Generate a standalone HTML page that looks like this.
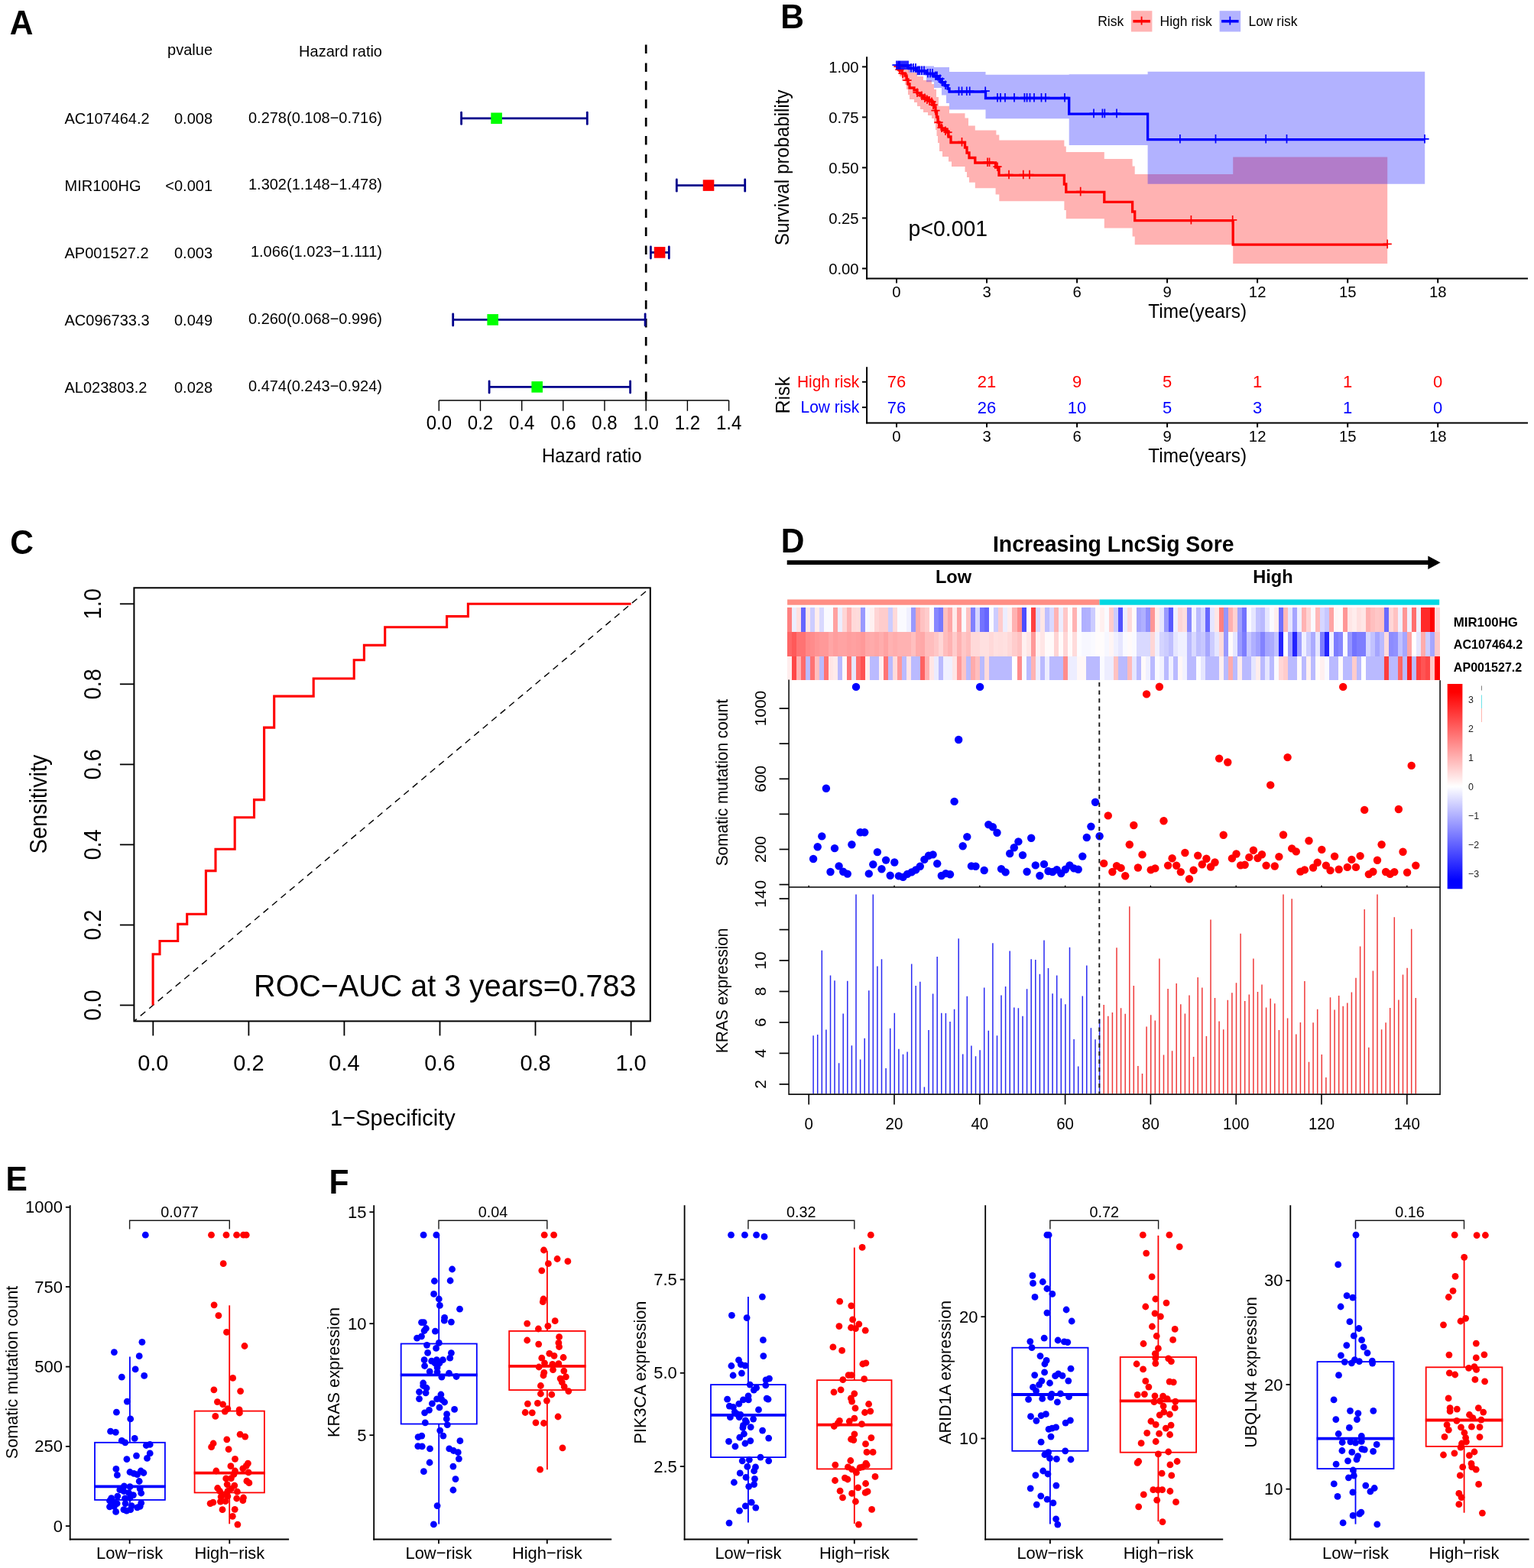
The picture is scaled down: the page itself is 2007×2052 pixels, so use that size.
<!DOCTYPE html>
<html lang="en">
<head>
<meta charset="utf-8">
<title>Figure: LncSig risk model</title>
<style>
html,body{margin:0;padding:0;background:#fff;}
body{width:2007px;height:2052px;overflow:hidden;}
svg{display:block;}
svg text{font-family:"Liberation Sans",sans-serif;}
</style>
</head>
<body>
<svg width="2007" height="2052" viewBox="0 0 2007 2052">
<rect width="2007" height="2052" fill="#fff"/>
<g id="panelA">
<text transform="translate(12.8 44.5) scale(1 1.04)" font-size="42.5" font-weight="bold">A</text>
<text transform="translate(278 72.4) scale(1 1.04)" font-size="20" text-anchor="end">pvalue</text>
<text transform="translate(500 74.3) scale(1 1.04)" font-size="20" text-anchor="end">Hazard ratio</text>
<line x1="845.2" y1="58.5" x2="845.2" y2="524" stroke="#000" stroke-width="2.7" stroke-dasharray="11.5 12.4"/>
<text transform="translate(84.5 162.1) scale(1 1.04)" font-size="20">AC107464.2</text>
<text transform="translate(278 162.1) scale(1 1.04)" font-size="20" text-anchor="end">0.008</text>
<text transform="translate(500 160.6) scale(1 1.04)" font-size="20" text-anchor="end">0.278(0.108−0.716)</text>
<line x1="603.6" y1="154.8" x2="768.3" y2="154.8" stroke="#00008B" stroke-width="2.8"/>
<line x1="603.6" y1="147.2" x2="603.6" y2="162.4" stroke="#00008B" stroke-width="2.8" stroke-linecap="round"/>
<line x1="768.3" y1="147.2" x2="768.3" y2="162.4" stroke="#00008B" stroke-width="2.8" stroke-linecap="round"/>
<rect x="642.3" y="147.5" width="14.6" height="14.6" fill="#00FF00"/>
<text transform="translate(84.5 249.9) scale(1 1.04)" font-size="20">MIR100HG</text>
<text transform="translate(278 249.9) scale(1 1.04)" font-size="20" text-anchor="end">&lt;0.001</text>
<text transform="translate(500 248.4) scale(1 1.04)" font-size="20" text-anchor="end">1.302(1.148−1.478)</text>
<line x1="885.3" y1="242.6" x2="974.7" y2="242.6" stroke="#00008B" stroke-width="2.8"/>
<line x1="885.3" y1="235" x2="885.3" y2="250.2" stroke="#00008B" stroke-width="2.8" stroke-linecap="round"/>
<line x1="974.7" y1="235" x2="974.7" y2="250.2" stroke="#00008B" stroke-width="2.8" stroke-linecap="round"/>
<rect x="919.7" y="235.3" width="14.6" height="14.6" fill="#FF0000"/>
<text transform="translate(84.5 337.7) scale(1 1.04)" font-size="20">AP001527.2</text>
<text transform="translate(278 337.7) scale(1 1.04)" font-size="20" text-anchor="end">0.003</text>
<text transform="translate(500 336.2) scale(1 1.04)" font-size="20" text-anchor="end">1.066(1.023−1.111)</text>
<line x1="851.4" y1="330.4" x2="875.3" y2="330.4" stroke="#00008B" stroke-width="2.8"/>
<line x1="851.4" y1="322.8" x2="851.4" y2="338" stroke="#00008B" stroke-width="2.8" stroke-linecap="round"/>
<line x1="875.3" y1="322.8" x2="875.3" y2="338" stroke="#00008B" stroke-width="2.8" stroke-linecap="round"/>
<rect x="855.8" y="323.1" width="14.6" height="14.6" fill="#FF0000"/>
<text transform="translate(84.5 425.7) scale(1 1.04)" font-size="20">AC096733.3</text>
<text transform="translate(278 425.7) scale(1 1.04)" font-size="20" text-anchor="end">0.049</text>
<text transform="translate(500 424.2) scale(1 1.04)" font-size="20" text-anchor="end">0.260(0.068−0.996)</text>
<line x1="592.7" y1="418.4" x2="844.1" y2="418.4" stroke="#00008B" stroke-width="2.8"/>
<line x1="592.7" y1="410.8" x2="592.7" y2="426" stroke="#00008B" stroke-width="2.8" stroke-linecap="round"/>
<line x1="844.1" y1="410.8" x2="844.1" y2="426" stroke="#00008B" stroke-width="2.8" stroke-linecap="round"/>
<rect x="637.4" y="411.1" width="14.6" height="14.6" fill="#00FF00"/>
<text transform="translate(84.5 513.7) scale(1 1.04)" font-size="20">AL023803.2</text>
<text transform="translate(278 513.7) scale(1 1.04)" font-size="20" text-anchor="end">0.028</text>
<text transform="translate(500 512.2) scale(1 1.04)" font-size="20" text-anchor="end">0.474(0.243−0.924)</text>
<line x1="640.1" y1="506.4" x2="824.6" y2="506.4" stroke="#00008B" stroke-width="2.8"/>
<line x1="640.1" y1="498.8" x2="640.1" y2="514" stroke="#00008B" stroke-width="2.8" stroke-linecap="round"/>
<line x1="824.6" y1="498.8" x2="824.6" y2="514" stroke="#00008B" stroke-width="2.8" stroke-linecap="round"/>
<rect x="695.4" y="499.1" width="14.6" height="14.6" fill="#00FF00"/>
<line x1="574.3" y1="524" x2="953.6" y2="524" stroke="#000" stroke-width="1.4"/>
<line x1="574.3" y1="524" x2="574.3" y2="537.8" stroke="#000" stroke-width="1.4"/>
<text transform="translate(574.3 561.6) scale(1 1.04)" font-size="24" text-anchor="middle">0.0</text>
<line x1="628.5" y1="524" x2="628.5" y2="537.8" stroke="#000" stroke-width="1.4"/>
<text transform="translate(628.48 561.6) scale(1 1.04)" font-size="24" text-anchor="middle">0.2</text>
<line x1="682.7" y1="524" x2="682.7" y2="537.8" stroke="#000" stroke-width="1.4"/>
<text transform="translate(682.66 561.6) scale(1 1.04)" font-size="24" text-anchor="middle">0.4</text>
<line x1="736.8" y1="524" x2="736.8" y2="537.8" stroke="#000" stroke-width="1.4"/>
<text transform="translate(736.84 561.6) scale(1 1.04)" font-size="24" text-anchor="middle">0.6</text>
<line x1="791" y1="524" x2="791" y2="537.8" stroke="#000" stroke-width="1.4"/>
<text transform="translate(791.02 561.6) scale(1 1.04)" font-size="24" text-anchor="middle">0.8</text>
<line x1="845.2" y1="524" x2="845.2" y2="537.8" stroke="#000" stroke-width="1.4"/>
<text transform="translate(845.2 561.6) scale(1 1.04)" font-size="24" text-anchor="middle">1.0</text>
<line x1="899.4" y1="524" x2="899.4" y2="537.8" stroke="#000" stroke-width="1.4"/>
<text transform="translate(899.38 561.6) scale(1 1.04)" font-size="24" text-anchor="middle">1.2</text>
<line x1="953.6" y1="524" x2="953.6" y2="537.8" stroke="#000" stroke-width="1.4"/>
<text transform="translate(953.56 561.6) scale(1 1.04)" font-size="24" text-anchor="middle">1.4</text>
<text transform="translate(774.2 604.5) scale(1 1.04)" font-size="24" text-anchor="middle">Hazard ratio</text>
</g>
<g id="panelB">
<text transform="translate(1021.3 37) scale(1 1.04)" font-size="42.5" font-weight="bold">B</text>
<text transform="translate(1436.2 34.2) scale(1 1.04)" font-size="17.5">Risk</text>
<rect x="1479.9" y="14.2" width="27.5" height="27.3" fill="#FFB3B3"/>
<line x1="1482.4" y1="27.8" x2="1504.9" y2="27.8" stroke="#FF0000" stroke-width="3.6"/>
<line x1="1493.6" y1="21.6" x2="1493.6" y2="32.6" stroke="#FF0000" stroke-width="1.8"/>
<text transform="translate(1517.6 34.2) scale(1 1.04)" font-size="17.5">High risk</text>
<rect x="1595.6" y="14.2" width="27.5" height="27.3" fill="#B3B3FF"/>
<line x1="1598.1" y1="27.8" x2="1620.6" y2="27.8" stroke="#0000FF" stroke-width="3.6"/>
<line x1="1609.3" y1="21.6" x2="1609.3" y2="32.6" stroke="#0000FF" stroke-width="1.8"/>
<text transform="translate(1633.4 34.2) scale(1 1.04)" font-size="17.5">Low risk</text>
<path d="M1173 86 H1177 V88 H1184 V90 H1190 V95 H1200 V100 H1208 V105 H1219 V110 H1222 V117 H1225 V127 H1228 V138.8 H1242 V148.2 H1262.5 V154.5 H1267 V164.5 H1275.8 V170.5 H1303.4 V176.5 H1307.3 V183.6 H1392.4 V191.5 H1394.8 V199 H1444.8 V207.9 H1481.6 V217.5 H1484.7 V228 H1613.2 V205.4 H1815.2 V345.1 H1613.2 V320.2 H1484.7 V309.6 H1481.6 V298.6 H1444.8 V286.2 H1394.8 V275 H1392.4 V263.2 H1307.3 V254.5 H1302.6 V246.3 H1275.8 V238.8 H1268 V232 H1265 V225 H1262.5 V218 H1245 V211.5 H1241 V205 H1233 V198 H1229 V187 H1227 V178 H1225.5 V170 H1224 V162 H1222 V155 H1219 V151 H1214 V147 H1208 V143 H1204 V139 H1200 V134 H1196 V130 H1190 V124 H1188 V117 H1186 V111 H1184 V106 H1180 V100 H1177 V94 H1174.5 V86 H1173 Z" fill="#FF0000" fill-opacity="0.3"/>
<path d="M1173 86 H1199 V86.5 H1222 V88 H1242 V93.9 H1289.5 V97.8 H1398.7 V97.3 H1501.6 V93.8 H1864.2 V240.7 H1501.6 V190 H1398.7 V155.3 H1289.5 V143.5 H1242 V135 H1238 V124.6 H1232 V115 H1222 V107.3 H1212 V98.6 H1199 V95 H1189 V86 H1173 Z" fill="#0000FF" fill-opacity="0.3"/>
<path d="M1173 86 H1174.5 V89 H1177 V92 H1180 V96 H1184 V99 H1186 V104 H1188 V110 H1190 V115 H1196 V118 H1200 V122 H1204 V125 H1208 V128 H1214 V131 H1219 V134 H1222 V140 H1224 V146 H1225.5 V153 H1227 V160 H1229 V165 H1232 V169 H1238 V173 H1241 V179 H1244 V186.5 H1262.5 V193 H1265 V200 H1268 V206.5 H1275.8 V213 H1302.6 V219 H1307 V229.3 H1392.4 V241 H1394.8 V251.4 H1444.8 V264.4 H1481.6 V277 H1484.7 V288.6 H1613.2 V320.2 H1815.2" fill="none" stroke="#FF0000" stroke-width="3.3" stroke-linejoin="miter"/>
<path d="M1173 86 H1189 V89.5 H1199 V93 H1212 V96.5 H1222 V100 H1228 V104 H1232 V108 H1236 V112 H1240 V116 H1242 V120 H1289.5 V128.5 H1398.7 V149.2 H1501.6 V182.6 H1864.2" fill="none" stroke="#0000FF" stroke-width="3.3" stroke-linejoin="miter"/>
<path d="M1169.4 87.2H1180.6M1175 81.4V93M1171.4 91.2H1182.6M1177 85.4V97M1175.4 96.2H1186.6M1181 90.4V102M1181.4 105.2H1192.6M1187 99.4V111M1194.4 121.2H1205.6M1200 115.4V127M1200.4 125.2H1211.6M1206 119.4V131M1204.4 128.2H1215.6M1210 122.4V134M1207.4 130.2H1218.6M1213 124.4V136M1210.4 131.7H1221.6M1216 125.9V137.5M1213.4 133.2H1224.6M1219 127.4V139M1215.4 137.2H1226.6M1221 131.4V143M1218.4 144.7H1229.6M1224 138.9V150.5M1222.4 160.2H1233.6M1228 154.4V166M1226.4 167.2H1237.6M1232 161.4V173M1231.4 171.2H1242.6M1237 165.4V177M1234.4 173.2H1245.6M1240 167.4V179M1252.9 185.7H1264.1M1258.5 179.9V191.5M1286.4 212.2H1297.6M1292 206.4V218M1288.9 212.2H1300.1M1294.5 206.4V218M1299.4 218.2H1310.6M1305 212.4V224M1314.4 228.5H1325.6M1320 222.7V234.3M1333.2 228.5H1344.4M1338.8 222.7V234.3M1341.4 228.5H1352.6M1347 222.7V234.3M1408.1 250.6H1419.3M1413.7 244.8V256.4M1552.8 287.8H1564M1558.4 282V293.6M1607.1 287.8H1618.3M1612.7 282V293.6M1809.6 319.4H1820.8M1815.2 313.6V325.2" fill="none" stroke="#FF0000" stroke-width="1.7"/>
<path d="M1167.4 85.2H1178.6M1173 79.4V91M1169.4 85.2H1180.6M1175 79.4V91M1170.9 85.2H1182.1M1176.5 79.4V91M1172.4 85.2H1183.6M1178 79.4V91M1174.4 85.2H1185.6M1180 79.4V91M1176.4 85.2H1187.6M1182 79.4V91M1178.4 85.2H1189.6M1184 79.4V91M1180.4 85.2H1191.6M1186 79.4V91M1182.4 85.2H1193.6M1188 79.4V91M1186.4 88.7H1197.6M1192 82.9V94.5M1189.4 88.7H1200.6M1195 82.9V94.5M1192.4 88.7H1203.6M1198 82.9V94.5M1195.4 92.2H1206.6M1201 86.4V98M1197.4 92.2H1208.6M1203 86.4V98M1200.4 92.2H1211.6M1206 86.4V98M1203.4 92.2H1214.6M1209 86.4V98M1208.4 95.7H1219.6M1214 89.9V101.5M1211.4 95.7H1222.6M1217 89.9V101.5M1214.4 95.7H1225.6M1220 89.9V101.5M1218.4 99.2H1229.6M1224 93.4V105M1220.4 99.2H1231.6M1226 93.4V105M1224.4 103.2H1235.6M1230 97.4V109M1227.4 107.2H1238.6M1233 101.4V113M1231.4 111.2H1242.6M1237 105.4V117M1248.9 119.2H1260.1M1254.5 113.4V125M1252.9 119.2H1264.1M1258.5 113.4V125M1259.2 119.2H1270.4M1264.8 113.4V125M1263.1 119.2H1274.3M1268.7 113.4V125M1283.6 119.2H1294.8M1289.2 113.4V125M1299.4 127.7H1310.6M1305 121.9V133.5M1303.4 127.7H1314.6M1309 121.9V133.5M1309.4 127.7H1320.6M1315 121.9V133.5M1321.4 127.7H1332.6M1327 121.9V133.5M1334.8 127.7H1346M1340.4 121.9V133.5M1338 127.7H1349.2M1343.6 121.9V133.5M1341.9 127.7H1353.1M1347.5 121.9V133.5M1347.4 127.7H1358.6M1353 121.9V133.5M1356.9 127.7H1368.1M1362.5 121.9V133.5M1362.4 127.7H1373.6M1368 121.9V133.5M1387.4 127.7H1398.6M1393 121.9V133.5M1425.4 148.4H1436.6M1431 142.6V154.2M1436.8 148.4H1448M1442.4 142.6V154.2M1439.7 148.4H1450.9M1445.3 142.6V154.2M1455.4 148.4H1466.6M1461 142.6V154.2M1538.3 181.8H1549.5M1543.9 176V187.6M1584.9 181.8H1596.1M1590.5 176V187.6M1650.6 181.8H1661.8M1656.2 176V187.6M1677.9 181.8H1689.1M1683.5 176V187.6M1858.4 181.8H1869.6M1864 176V187.6" fill="none" stroke="#0000FF" stroke-width="1.7"/>
<line x1="1134.1" y1="74.3" x2="1134.1" y2="365.5" stroke="#000" stroke-width="2"/>
<line x1="1133.1" y1="364.5" x2="1999" y2="364.5" stroke="#000" stroke-width="2"/>
<line x1="1128" y1="351.4" x2="1134.1" y2="351.4" stroke="#000" stroke-width="2"/>
<text transform="translate(1123.6 358.6) scale(1 1.04)" font-size="20.3" text-anchor="end">0.00</text>
<line x1="1128" y1="285.4" x2="1134.1" y2="285.4" stroke="#000" stroke-width="2"/>
<text transform="translate(1123.6 292.6) scale(1 1.04)" font-size="20.3" text-anchor="end">0.25</text>
<line x1="1128" y1="219.4" x2="1134.1" y2="219.4" stroke="#000" stroke-width="2"/>
<text transform="translate(1123.6 226.6) scale(1 1.04)" font-size="20.3" text-anchor="end">0.50</text>
<line x1="1128" y1="153.4" x2="1134.1" y2="153.4" stroke="#000" stroke-width="2"/>
<text transform="translate(1123.6 160.6) scale(1 1.04)" font-size="20.3" text-anchor="end">0.75</text>
<line x1="1128" y1="87.4" x2="1134.1" y2="87.4" stroke="#000" stroke-width="2"/>
<text transform="translate(1123.6 94.6) scale(1 1.04)" font-size="20.3" text-anchor="end">1.00</text>
<line x1="1173" y1="364.5" x2="1173" y2="370.4" stroke="#000" stroke-width="2"/>
<text transform="translate(1173 389.1) scale(1 1.04)" font-size="20.3" text-anchor="middle">0</text>
<line x1="1291" y1="364.5" x2="1291" y2="370.4" stroke="#000" stroke-width="2"/>
<text transform="translate(1291.03 389.1) scale(1 1.04)" font-size="20.3" text-anchor="middle">3</text>
<line x1="1409.1" y1="364.5" x2="1409.1" y2="370.4" stroke="#000" stroke-width="2"/>
<text transform="translate(1409.06 389.1) scale(1 1.04)" font-size="20.3" text-anchor="middle">6</text>
<line x1="1527.1" y1="364.5" x2="1527.1" y2="370.4" stroke="#000" stroke-width="2"/>
<text transform="translate(1527.09 389.1) scale(1 1.04)" font-size="20.3" text-anchor="middle">9</text>
<line x1="1645.1" y1="364.5" x2="1645.1" y2="370.4" stroke="#000" stroke-width="2"/>
<text transform="translate(1645.12 389.1) scale(1 1.04)" font-size="20.3" text-anchor="middle">12</text>
<line x1="1763.2" y1="364.5" x2="1763.2" y2="370.4" stroke="#000" stroke-width="2"/>
<text transform="translate(1763.15 389.1) scale(1 1.04)" font-size="20.3" text-anchor="middle">15</text>
<line x1="1881.2" y1="364.5" x2="1881.2" y2="370.4" stroke="#000" stroke-width="2"/>
<text transform="translate(1881.18 389.1) scale(1 1.04)" font-size="20.3" text-anchor="middle">18</text>
<text transform="translate(1566.7 416.2) scale(1 1.04)" font-size="24.3" text-anchor="middle">Time(years)</text>
<text transform="translate(1032.2 219.2) rotate(-90) scale(1 1.04)" font-size="24.3" text-anchor="middle">Survival probability</text>
<text transform="translate(1188.6 308.6) scale(1 1.04)" font-size="28.4">p&lt;0.001</text>
<line x1="1134.1" y1="480.2" x2="1134.1" y2="554.4" stroke="#000" stroke-width="2"/>
<line x1="1133.1" y1="553.4" x2="1999" y2="553.4" stroke="#000" stroke-width="2"/>
<line x1="1128" y1="499.8" x2="1134.1" y2="499.8" stroke="#000" stroke-width="2"/>
<text transform="translate(1124.2 507.1) scale(1 1.04)" font-size="20.9" text-anchor="end" fill="#FF0000">High risk</text>
<text transform="translate(1173 507.4) scale(1 1.04)" font-size="22" text-anchor="middle" fill="#FF0000">76</text>
<text transform="translate(1291.03 507.4) scale(1 1.04)" font-size="22" text-anchor="middle" fill="#FF0000">21</text>
<text transform="translate(1409.06 507.4) scale(1 1.04)" font-size="22" text-anchor="middle" fill="#FF0000">9</text>
<text transform="translate(1527.09 507.4) scale(1 1.04)" font-size="22" text-anchor="middle" fill="#FF0000">5</text>
<text transform="translate(1645.12 507.4) scale(1 1.04)" font-size="22" text-anchor="middle" fill="#FF0000">1</text>
<text transform="translate(1763.15 507.4) scale(1 1.04)" font-size="22" text-anchor="middle" fill="#FF0000">1</text>
<text transform="translate(1881.18 507.4) scale(1 1.04)" font-size="22" text-anchor="middle" fill="#FF0000">0</text>
<line x1="1128" y1="533.1" x2="1134.1" y2="533.1" stroke="#000" stroke-width="2"/>
<text transform="translate(1124.2 540.4) scale(1 1.04)" font-size="20.9" text-anchor="end" fill="#0000FF">Low risk</text>
<text transform="translate(1173 540.7) scale(1 1.04)" font-size="22" text-anchor="middle" fill="#0000FF">76</text>
<text transform="translate(1291.03 540.7) scale(1 1.04)" font-size="22" text-anchor="middle" fill="#0000FF">26</text>
<text transform="translate(1409.06 540.7) scale(1 1.04)" font-size="22" text-anchor="middle" fill="#0000FF">10</text>
<text transform="translate(1527.09 540.7) scale(1 1.04)" font-size="22" text-anchor="middle" fill="#0000FF">5</text>
<text transform="translate(1645.12 540.7) scale(1 1.04)" font-size="22" text-anchor="middle" fill="#0000FF">3</text>
<text transform="translate(1763.15 540.7) scale(1 1.04)" font-size="22" text-anchor="middle" fill="#0000FF">1</text>
<text transform="translate(1881.18 540.7) scale(1 1.04)" font-size="22" text-anchor="middle" fill="#0000FF">0</text>
<line x1="1173" y1="553.4" x2="1173" y2="559.3" stroke="#000" stroke-width="2"/>
<text transform="translate(1173 578) scale(1 1.04)" font-size="20.3" text-anchor="middle">0</text>
<line x1="1291" y1="553.4" x2="1291" y2="559.3" stroke="#000" stroke-width="2"/>
<text transform="translate(1291.03 578) scale(1 1.04)" font-size="20.3" text-anchor="middle">3</text>
<line x1="1409.1" y1="553.4" x2="1409.1" y2="559.3" stroke="#000" stroke-width="2"/>
<text transform="translate(1409.06 578) scale(1 1.04)" font-size="20.3" text-anchor="middle">6</text>
<line x1="1527.1" y1="553.4" x2="1527.1" y2="559.3" stroke="#000" stroke-width="2"/>
<text transform="translate(1527.09 578) scale(1 1.04)" font-size="20.3" text-anchor="middle">9</text>
<line x1="1645.1" y1="553.4" x2="1645.1" y2="559.3" stroke="#000" stroke-width="2"/>
<text transform="translate(1645.12 578) scale(1 1.04)" font-size="20.3" text-anchor="middle">12</text>
<line x1="1763.2" y1="553.4" x2="1763.2" y2="559.3" stroke="#000" stroke-width="2"/>
<text transform="translate(1763.15 578) scale(1 1.04)" font-size="20.3" text-anchor="middle">15</text>
<line x1="1881.2" y1="553.4" x2="1881.2" y2="559.3" stroke="#000" stroke-width="2"/>
<text transform="translate(1881.18 578) scale(1 1.04)" font-size="20.3" text-anchor="middle">18</text>
<text transform="translate(1566.7 605) scale(1 1.04)" font-size="24.3" text-anchor="middle">Time(years)</text>
<text transform="translate(1032.6 517.2) rotate(-90) scale(1 1.04)" font-size="25" text-anchor="middle">Risk</text>
</g>
<g id="panelC">
<text transform="translate(13.2 724.6) scale(1 1.04)" font-size="42.5" font-weight="bold">C</text>
<clipPath id="clipC"><rect x="175.4" y="769.3" width="675.4" height="567.1"/></clipPath>
<line x1="137.8" y1="1368" x2="888.1" y2="737.8" stroke="#000" stroke-width="1.4" stroke-dasharray="8.5 6.5" clip-path="url(#clipC)"/>
<rect x="175.4" y="769.3" width="675.4" height="567.1" fill="none" stroke="#000" stroke-width="2"/>
<path d="M200.1 1315.5 L200.1 1248.8 L209 1248.8 L209 1231.5 L232.7 1231.5 L232.7 1209.4 L244.7 1209.4 L244.7 1196.3 L269.4 1196.3 L269.4 1139.6 L282 1139.6 L282 1111.2 L307.2 1111.2 L307.2 1069.7 L332.5 1069.7 L332.5 1046.6 L345.6 1046.6 L345.6 952.1 L358.7 952.1 L358.7 911.1 L410.2 911.1 L410.2 888 L463.2 888 L463.2 863.8 L476.4 863.8 L476.4 844.4 L503.7 844.4 L503.7 820.8 L584.6 820.8 L584.6 806.6 L612.4 806.6 L612.4 790.3 L825.6 790.3" fill="none" stroke="#FF0000" stroke-width="3.1" stroke-linejoin="miter"/>
<line x1="200.3" y1="1336.4" x2="200.3" y2="1355.4" stroke="#000" stroke-width="1.8"/>
<text transform="translate(200.3 1400.7) scale(1 1.04)" font-size="29" text-anchor="middle">0.0</text>
<line x1="175.4" y1="1315.5" x2="156.9" y2="1315.5" stroke="#000" stroke-width="1.8"/>
<text transform="translate(132.3 1315.5) rotate(-90) scale(1 1.1)" font-size="29" text-anchor="middle">0.0</text>
<line x1="325.4" y1="1336.4" x2="325.4" y2="1355.4" stroke="#000" stroke-width="1.8"/>
<text transform="translate(325.36 1400.7) scale(1 1.04)" font-size="29" text-anchor="middle">0.2</text>
<line x1="175.4" y1="1210.5" x2="156.9" y2="1210.5" stroke="#000" stroke-width="1.8"/>
<text transform="translate(132.3 1210.46) rotate(-90) scale(1 1.1)" font-size="29" text-anchor="middle">0.2</text>
<line x1="450.4" y1="1336.4" x2="450.4" y2="1355.4" stroke="#000" stroke-width="1.8"/>
<text transform="translate(450.42 1400.7) scale(1 1.04)" font-size="29" text-anchor="middle">0.4</text>
<line x1="175.4" y1="1105.4" x2="156.9" y2="1105.4" stroke="#000" stroke-width="1.8"/>
<text transform="translate(132.3 1105.42) rotate(-90) scale(1 1.1)" font-size="29" text-anchor="middle">0.4</text>
<line x1="575.5" y1="1336.4" x2="575.5" y2="1355.4" stroke="#000" stroke-width="1.8"/>
<text transform="translate(575.48 1400.7) scale(1 1.04)" font-size="29" text-anchor="middle">0.6</text>
<line x1="175.4" y1="1000.4" x2="156.9" y2="1000.4" stroke="#000" stroke-width="1.8"/>
<text transform="translate(132.3 1000.38) rotate(-90) scale(1 1.1)" font-size="29" text-anchor="middle">0.6</text>
<line x1="700.5" y1="1336.4" x2="700.5" y2="1355.4" stroke="#000" stroke-width="1.8"/>
<text transform="translate(700.54 1400.7) scale(1 1.04)" font-size="29" text-anchor="middle">0.8</text>
<line x1="175.4" y1="895.3" x2="156.9" y2="895.3" stroke="#000" stroke-width="1.8"/>
<text transform="translate(132.3 895.34) rotate(-90) scale(1 1.1)" font-size="29" text-anchor="middle">0.8</text>
<line x1="825.6" y1="1336.4" x2="825.6" y2="1355.4" stroke="#000" stroke-width="1.8"/>
<text transform="translate(825.6 1400.7) scale(1 1.04)" font-size="29" text-anchor="middle">1.0</text>
<line x1="175.4" y1="790.3" x2="156.9" y2="790.3" stroke="#000" stroke-width="1.8"/>
<text transform="translate(132.3 790.3) rotate(-90) scale(1 1.1)" font-size="29" text-anchor="middle">1.0</text>
<text transform="translate(513.9 1472.6) scale(1 1.04)" font-size="29" text-anchor="middle">1−Specificity</text>
<text transform="translate(61.2 1052.4) rotate(-90) scale(1 1.08)" font-size="28.8" text-anchor="middle">Sensitivity</text>
<text transform="translate(832.5 1303.8) scale(1 1.04)" font-size="39.5" text-anchor="end">ROC−AUC at 3 years=0.783</text>
</g>
<g id="panelD">
<text transform="translate(1021.8 723.3) scale(1 1.04)" font-size="42.5" font-weight="bold">D</text>
<text transform="translate(1456.7 722) scale(1 1.04)" font-size="28.4" text-anchor="middle" font-weight="bold">Increasing LncSig Sore</text>
<line x1="1029.7" y1="736.2" x2="1872" y2="736.2" stroke="#000" stroke-width="5.8"/>
<path d="M1868.3 727.5 L1884.6 736.2 L1868.3 744.9 Z" fill="#000"/>
<text transform="translate(1247.5 762.7) scale(1 1.04)" font-size="23.6" text-anchor="middle" font-weight="bold">Low</text>
<text transform="translate(1665.4 762.7) scale(1 1.04)" font-size="23.6" text-anchor="middle" font-weight="bold">High</text>
<rect x="1030.1" y="784.5" width="408.5" height="7.2" fill="#FF8E84"/>
<rect x="1438.6" y="784.5" width="444.6" height="7.2" fill="#00D8E2"/>
<g shape-rendering="crispEdges">
<rect x="1030.10" y="795" width="6.31" height="32.2" fill="#FF8080"/>
<rect x="1036.11" y="795" width="6.31" height="32.2" fill="#EDEDFF"/>
<rect x="1042.12" y="795" width="6.31" height="32.2" fill="#FFE0E0"/>
<rect x="1048.12" y="795" width="6.31" height="32.2" fill="#6666FF"/>
<rect x="1054.13" y="795" width="6.31" height="32.2" fill="#FFE6E6"/>
<rect x="1060.14" y="795" width="6.31" height="32.2" fill="#CCCCFF"/>
<rect x="1066.15" y="795" width="6.31" height="32.2" fill="#FFEDED"/>
<rect x="1072.16" y="795" width="6.31" height="32.2" fill="#D9D9FF"/>
<rect x="1078.16" y="795" width="12.32" height="32.2" fill="#FAFAFF"/>
<rect x="1090.18" y="795" width="6.31" height="32.2" fill="#FFA1A1"/>
<rect x="1096.19" y="795" width="6.31" height="32.2" fill="#EDEDFF"/>
<rect x="1102.20" y="795" width="6.31" height="32.2" fill="#FFD6D6"/>
<rect x="1108.20" y="795" width="6.31" height="32.2" fill="#FFB2B2"/>
<rect x="1114.21" y="795" width="6.31" height="32.2" fill="#FFD9D9"/>
<rect x="1120.22" y="795" width="6.31" height="32.2" fill="#FFDBDB"/>
<rect x="1126.23" y="795" width="6.31" height="32.2" fill="#9999FF"/>
<rect x="1132.24" y="795" width="6.31" height="32.2" fill="#F7F7FF"/>
<rect x="1138.24" y="795" width="6.31" height="32.2" fill="#FFF0F0"/>
<rect x="1144.25" y="795" width="6.31" height="32.2" fill="#FFD4D4"/>
<rect x="1150.26" y="795" width="12.32" height="32.2" fill="#FFCCCC"/>
<rect x="1162.28" y="795" width="6.31" height="32.2" fill="#CCCCFF"/>
<rect x="1168.28" y="795" width="6.31" height="32.2" fill="#FFD9D9"/>
<rect x="1174.29" y="795" width="12.32" height="32.2" fill="#FAFAFF"/>
<rect x="1186.31" y="795" width="6.31" height="32.2" fill="#F0F0FF"/>
<rect x="1192.32" y="795" width="6.31" height="32.2" fill="#9999FF"/>
<rect x="1198.32" y="795" width="6.31" height="32.2" fill="#FFABAB"/>
<rect x="1204.33" y="795" width="6.31" height="32.2" fill="#FFC2C2"/>
<rect x="1210.34" y="795" width="6.31" height="32.2" fill="#FFCCCC"/>
<rect x="1216.35" y="795" width="6.31" height="32.2" fill="#FFFAFA"/>
<rect x="1222.36" y="795" width="6.31" height="32.2" fill="#8787FF"/>
<rect x="1228.36" y="795" width="6.31" height="32.2" fill="#7878FF"/>
<rect x="1234.37" y="795" width="6.31" height="32.2" fill="#FFBFBF"/>
<rect x="1240.38" y="795" width="6.31" height="32.2" fill="#FFA6A6"/>
<rect x="1246.39" y="795" width="6.31" height="32.2" fill="#FFEBEB"/>
<rect x="1252.40" y="795" width="6.31" height="32.2" fill="#FFA1A1"/>
<rect x="1258.40" y="795" width="6.31" height="32.2" fill="#FAFAFF"/>
<rect x="1264.41" y="795" width="6.31" height="32.2" fill="#FFC2C2"/>
<rect x="1270.42" y="795" width="6.31" height="32.2" fill="#8080FF"/>
<rect x="1276.43" y="795" width="6.31" height="32.2" fill="#D6D6FF"/>
<rect x="1282.44" y="795" width="6.31" height="32.2" fill="#7373FF"/>
<rect x="1288.44" y="795" width="6.31" height="32.2" fill="#6666FF"/>
<rect x="1294.45" y="795" width="6.31" height="32.2" fill="#FAFAFF"/>
<rect x="1300.46" y="795" width="6.31" height="32.2" fill="#CCCCFF"/>
<rect x="1306.47" y="795" width="6.31" height="32.2" fill="#FFCCCC"/>
<rect x="1312.48" y="795" width="6.31" height="32.2" fill="#EDEDFF"/>
<rect x="1318.48" y="795" width="6.31" height="32.2" fill="#FFEDED"/>
<rect x="1324.49" y="795" width="6.31" height="32.2" fill="#FFB2B2"/>
<rect x="1330.50" y="795" width="6.31" height="32.2" fill="#FF8C8C"/>
<rect x="1336.51" y="795" width="6.31" height="32.2" fill="#4D4DFF"/>
<rect x="1342.52" y="795" width="6.31" height="32.2" fill="#FFFAFA"/>
<rect x="1348.52" y="795" width="6.31" height="32.2" fill="#FF4040"/>
<rect x="1354.53" y="795" width="6.31" height="32.2" fill="#D9D9FF"/>
<rect x="1360.54" y="795" width="6.31" height="32.2" fill="#FFE6E6"/>
<rect x="1366.55" y="795" width="6.31" height="32.2" fill="#BFBFFF"/>
<rect x="1372.56" y="795" width="6.31" height="32.2" fill="#D9D9FF"/>
<rect x="1378.56" y="795" width="6.31" height="32.2" fill="#FFB2B2"/>
<rect x="1384.57" y="795" width="6.31" height="32.2" fill="#EDEDFF"/>
<rect x="1390.58" y="795" width="6.31" height="32.2" fill="#FFC7C7"/>
<rect x="1396.59" y="795" width="6.31" height="32.2" fill="#FFFAFA"/>
<rect x="1402.60" y="795" width="6.31" height="32.2" fill="#FFB2B2"/>
<rect x="1408.60" y="795" width="6.31" height="32.2" fill="#FAFAFF"/>
<rect x="1414.61" y="795" width="6.31" height="32.2" fill="#B0B0FF"/>
<rect x="1420.62" y="795" width="6.31" height="32.2" fill="#B2B2FF"/>
<rect x="1426.63" y="795" width="6.31" height="32.2" fill="#CCCCFF"/>
<rect x="1432.64" y="795" width="6.31" height="32.2" fill="#FFFAFA"/>
<rect x="1438.64" y="795" width="6.31" height="32.2" fill="#FFF0F0"/>
<rect x="1444.65" y="795" width="6.31" height="32.2" fill="#FAFAFF"/>
<rect x="1450.66" y="795" width="6.31" height="32.2" fill="#FFCCCC"/>
<rect x="1456.67" y="795" width="6.31" height="32.2" fill="#CCCCFF"/>
<rect x="1462.68" y="795" width="6.31" height="32.2" fill="#5252FF"/>
<rect x="1468.68" y="795" width="6.31" height="32.2" fill="#EDEDFF"/>
<rect x="1474.69" y="795" width="6.31" height="32.2" fill="#FFDBDB"/>
<rect x="1480.70" y="795" width="6.31" height="32.2" fill="#FFFAFA"/>
<rect x="1486.71" y="795" width="6.31" height="32.2" fill="#A6A6FF"/>
<rect x="1492.72" y="795" width="6.31" height="32.2" fill="#B0B0FF"/>
<rect x="1498.72" y="795" width="6.31" height="32.2" fill="#9191FF"/>
<rect x="1504.73" y="795" width="6.31" height="32.2" fill="#FF9696"/>
<rect x="1510.74" y="795" width="6.31" height="32.2" fill="#FFEDED"/>
<rect x="1516.75" y="795" width="6.31" height="32.2" fill="#E6E6FF"/>
<rect x="1522.76" y="795" width="6.31" height="32.2" fill="#9999FF"/>
<rect x="1528.76" y="795" width="6.31" height="32.2" fill="#5959FF"/>
<rect x="1534.77" y="795" width="6.31" height="32.2" fill="#F0F0FF"/>
<rect x="1540.78" y="795" width="6.31" height="32.2" fill="#FFD6D6"/>
<rect x="1546.79" y="795" width="6.31" height="32.2" fill="#FFDEDE"/>
<rect x="1552.80" y="795" width="6.31" height="32.2" fill="#8787FF"/>
<rect x="1558.80" y="795" width="6.31" height="32.2" fill="#F2F2FF"/>
<rect x="1564.81" y="795" width="6.31" height="32.2" fill="#BABAFF"/>
<rect x="1570.82" y="795" width="6.31" height="32.2" fill="#D6D6FF"/>
<rect x="1576.83" y="795" width="6.31" height="32.2" fill="#6666FF"/>
<rect x="1582.84" y="795" width="6.31" height="32.2" fill="#E6E6FF"/>
<rect x="1588.84" y="795" width="6.31" height="32.2" fill="#FFE6E6"/>
<rect x="1594.85" y="795" width="6.31" height="32.2" fill="#FF8080"/>
<rect x="1600.86" y="795" width="6.31" height="32.2" fill="#9696FF"/>
<rect x="1606.87" y="795" width="6.31" height="32.2" fill="#FFB0B0"/>
<rect x="1612.88" y="795" width="6.31" height="32.2" fill="#FFD1D1"/>
<rect x="1618.88" y="795" width="6.31" height="32.2" fill="#A1A1FF"/>
<rect x="1624.89" y="795" width="6.31" height="32.2" fill="#7373FF"/>
<rect x="1630.90" y="795" width="6.31" height="32.2" fill="#FAFAFF"/>
<rect x="1636.91" y="795" width="6.31" height="32.2" fill="#E6E6FF"/>
<rect x="1642.92" y="795" width="6.31" height="32.2" fill="#C2C2FF"/>
<rect x="1648.92" y="795" width="6.31" height="32.2" fill="#BABAFF"/>
<rect x="1654.93" y="795" width="6.31" height="32.2" fill="#E6E6FF"/>
<rect x="1660.94" y="795" width="6.31" height="32.2" fill="#FAFAFF"/>
<rect x="1666.95" y="795" width="6.31" height="32.2" fill="#FFEDED"/>
<rect x="1672.96" y="795" width="6.31" height="32.2" fill="#6E6EFF"/>
<rect x="1678.96" y="795" width="6.31" height="32.2" fill="#FFB8B8"/>
<rect x="1684.97" y="795" width="6.31" height="32.2" fill="#E6E6FF"/>
<rect x="1690.98" y="795" width="6.31" height="32.2" fill="#A6A6FF"/>
<rect x="1696.99" y="795" width="6.31" height="32.2" fill="#F0F0FF"/>
<rect x="1703.00" y="795" width="6.31" height="32.2" fill="#FFB2B2"/>
<rect x="1709.00" y="795" width="6.31" height="32.2" fill="#FFD4D4"/>
<rect x="1715.01" y="795" width="6.31" height="32.2" fill="#FAFAFF"/>
<rect x="1721.02" y="795" width="6.31" height="32.2" fill="#FFB8B8"/>
<rect x="1727.03" y="795" width="6.31" height="32.2" fill="#D6D6FF"/>
<rect x="1733.04" y="795" width="6.31" height="32.2" fill="#C7C7FF"/>
<rect x="1739.04" y="795" width="6.31" height="32.2" fill="#FFA3A3"/>
<rect x="1745.05" y="795" width="6.31" height="32.2" fill="#FFF7F7"/>
<rect x="1751.06" y="795" width="6.31" height="32.2" fill="#FFFAFA"/>
<rect x="1757.07" y="795" width="6.31" height="32.2" fill="#FF9696"/>
<rect x="1763.08" y="795" width="6.31" height="32.2" fill="#FFE6E6"/>
<rect x="1769.08" y="795" width="6.31" height="32.2" fill="#FFEDED"/>
<rect x="1775.09" y="795" width="6.31" height="32.2" fill="#FFE0E0"/>
<rect x="1781.10" y="795" width="6.31" height="32.2" fill="#FFE6E6"/>
<rect x="1787.11" y="795" width="6.31" height="32.2" fill="#FFB0B0"/>
<rect x="1793.12" y="795" width="6.31" height="32.2" fill="#FFBFBF"/>
<rect x="1799.12" y="795" width="6.31" height="32.2" fill="#FFC7C7"/>
<rect x="1805.13" y="795" width="6.31" height="32.2" fill="#FFC2C2"/>
<rect x="1811.14" y="795" width="6.31" height="32.2" fill="#6969FF"/>
<rect x="1817.15" y="795" width="6.31" height="32.2" fill="#FFD6D6"/>
<rect x="1823.16" y="795" width="6.31" height="32.2" fill="#FFC2C2"/>
<rect x="1829.16" y="795" width="6.31" height="32.2" fill="#F0F0FF"/>
<rect x="1835.17" y="795" width="6.31" height="32.2" fill="#FF9696"/>
<rect x="1841.18" y="795" width="6.31" height="32.2" fill="#F0F0FF"/>
<rect x="1847.19" y="795" width="6.31" height="32.2" fill="#FF6E6E"/>
<rect x="1853.20" y="795" width="6.31" height="32.2" fill="#F0F0FF"/>
<rect x="1859.20" y="795" width="12.32" height="32.2" fill="#FF2929"/>
<rect x="1871.22" y="795" width="6.31" height="32.2" fill="#FF0000"/>
<rect x="1877.23" y="795" width="6.31" height="32.2" fill="#FFD6D6"/>
<rect x="1030.10" y="827.2" width="6.31" height="31.3" fill="#FF6666"/>
<rect x="1036.11" y="827.2" width="6.31" height="31.3" fill="#FF5959"/>
<rect x="1042.12" y="827.2" width="12.32" height="31.3" fill="#FF7373"/>
<rect x="1054.13" y="827.2" width="6.31" height="31.3" fill="#FF8787"/>
<rect x="1060.14" y="827.2" width="6.31" height="31.3" fill="#FF8C8C"/>
<rect x="1066.15" y="827.2" width="6.31" height="31.3" fill="#FF9494"/>
<rect x="1072.16" y="827.2" width="12.32" height="31.3" fill="#FF9999"/>
<rect x="1084.17" y="827.2" width="6.31" height="31.3" fill="#FFA6A6"/>
<rect x="1090.18" y="827.2" width="6.31" height="31.3" fill="#FF9E9E"/>
<rect x="1096.19" y="827.2" width="12.32" height="31.3" fill="#FFA3A3"/>
<rect x="1108.20" y="827.2" width="6.31" height="31.3" fill="#FF9E9E"/>
<rect x="1114.21" y="827.2" width="6.31" height="31.3" fill="#FFA1A1"/>
<rect x="1120.22" y="827.2" width="6.31" height="31.3" fill="#FF9E9E"/>
<rect x="1126.23" y="827.2" width="6.31" height="31.3" fill="#FF9999"/>
<rect x="1132.24" y="827.2" width="6.31" height="31.3" fill="#FFA8A8"/>
<rect x="1138.24" y="827.2" width="6.31" height="31.3" fill="#FFABAB"/>
<rect x="1144.25" y="827.2" width="6.31" height="31.3" fill="#FFA6A6"/>
<rect x="1150.26" y="827.2" width="6.31" height="31.3" fill="#FFADAD"/>
<rect x="1156.27" y="827.2" width="6.31" height="31.3" fill="#FFA3A3"/>
<rect x="1162.28" y="827.2" width="6.31" height="31.3" fill="#FFB2B2"/>
<rect x="1168.28" y="827.2" width="6.31" height="31.3" fill="#FFADAD"/>
<rect x="1174.29" y="827.2" width="18.32" height="31.3" fill="#FFB2B2"/>
<rect x="1192.32" y="827.2" width="6.31" height="31.3" fill="#FFBFBF"/>
<rect x="1198.32" y="827.2" width="6.31" height="31.3" fill="#FFABAB"/>
<rect x="1204.33" y="827.2" width="6.31" height="31.3" fill="#FFA8A8"/>
<rect x="1210.34" y="827.2" width="12.32" height="31.3" fill="#FFBDBD"/>
<rect x="1222.36" y="827.2" width="6.31" height="31.3" fill="#FFC7C7"/>
<rect x="1228.36" y="827.2" width="6.31" height="31.3" fill="#FFD6D6"/>
<rect x="1234.37" y="827.2" width="6.31" height="31.3" fill="#FFBDBD"/>
<rect x="1240.38" y="827.2" width="6.31" height="31.3" fill="#FFB2B2"/>
<rect x="1246.39" y="827.2" width="6.31" height="31.3" fill="#FFCCCC"/>
<rect x="1252.40" y="827.2" width="6.31" height="31.3" fill="#FFB2B2"/>
<rect x="1258.40" y="827.2" width="6.31" height="31.3" fill="#FFC7C7"/>
<rect x="1264.41" y="827.2" width="6.31" height="31.3" fill="#FFBDBD"/>
<rect x="1270.42" y="827.2" width="12.32" height="31.3" fill="#FFD9D9"/>
<rect x="1282.44" y="827.2" width="12.32" height="31.3" fill="#FFE0E0"/>
<rect x="1294.45" y="827.2" width="6.31" height="31.3" fill="#FFD9D9"/>
<rect x="1300.46" y="827.2" width="6.31" height="31.3" fill="#FFE0E0"/>
<rect x="1306.47" y="827.2" width="6.31" height="31.3" fill="#FFDEDE"/>
<rect x="1312.48" y="827.2" width="6.31" height="31.3" fill="#FFE0E0"/>
<rect x="1318.48" y="827.2" width="6.31" height="31.3" fill="#FFD9D9"/>
<rect x="1324.49" y="827.2" width="6.31" height="31.3" fill="#FFCCCC"/>
<rect x="1330.50" y="827.2" width="6.31" height="31.3" fill="#FFC2C2"/>
<rect x="1336.51" y="827.2" width="6.31" height="31.3" fill="#FFF0F0"/>
<rect x="1342.52" y="827.2" width="6.31" height="31.3" fill="#FFE6E6"/>
<rect x="1348.52" y="827.2" width="6.31" height="31.3" fill="#FF9999"/>
<rect x="1354.53" y="827.2" width="6.31" height="31.3" fill="#FFF0F0"/>
<rect x="1360.54" y="827.2" width="6.31" height="31.3" fill="#FFE6E6"/>
<rect x="1366.55" y="827.2" width="12.32" height="31.3" fill="#FFFAFA"/>
<rect x="1378.56" y="827.2" width="6.31" height="31.3" fill="#FFD4D4"/>
<rect x="1384.57" y="827.2" width="6.31" height="31.3" fill="#FFFAFA"/>
<rect x="1390.58" y="827.2" width="6.31" height="31.3" fill="#FFD6D6"/>
<rect x="1396.59" y="827.2" width="6.31" height="31.3" fill="#FFFAFA"/>
<rect x="1402.60" y="827.2" width="6.31" height="31.3" fill="#FFDBDB"/>
<rect x="1408.60" y="827.2" width="6.31" height="31.3" fill="#FCFCFF"/>
<rect x="1414.61" y="827.2" width="12.32" height="31.3" fill="#F7F7FF"/>
<rect x="1426.63" y="827.2" width="6.31" height="31.3" fill="#FAFAFF"/>
<rect x="1432.64" y="827.2" width="12.32" height="31.3" fill="#FFFCFC"/>
<rect x="1444.65" y="827.2" width="6.31" height="31.3" fill="#F7F7FF"/>
<rect x="1450.66" y="827.2" width="6.31" height="31.3" fill="#FFF5F5"/>
<rect x="1456.67" y="827.2" width="6.31" height="31.3" fill="#F0F0FF"/>
<rect x="1462.68" y="827.2" width="6.31" height="31.3" fill="#E6E6FF"/>
<rect x="1468.68" y="827.2" width="6.31" height="31.3" fill="#FAFAFF"/>
<rect x="1474.69" y="827.2" width="6.31" height="31.3" fill="#FFFAFA"/>
<rect x="1480.70" y="827.2" width="6.31" height="31.3" fill="#FAFAFF"/>
<rect x="1486.71" y="827.2" width="18.32" height="31.3" fill="#D9D9FF"/>
<rect x="1504.73" y="827.2" width="6.31" height="31.3" fill="#FFD6D6"/>
<rect x="1510.74" y="827.2" width="6.31" height="31.3" fill="#F0F0FF"/>
<rect x="1516.75" y="827.2" width="6.31" height="31.3" fill="#D4D4FF"/>
<rect x="1522.76" y="827.2" width="6.31" height="31.3" fill="#CCCCFF"/>
<rect x="1528.76" y="827.2" width="6.31" height="31.3" fill="#BFBFFF"/>
<rect x="1534.77" y="827.2" width="6.31" height="31.3" fill="#E6E6FF"/>
<rect x="1540.78" y="827.2" width="12.32" height="31.3" fill="#F0F0FF"/>
<rect x="1552.80" y="827.2" width="6.31" height="31.3" fill="#BABAFF"/>
<rect x="1558.80" y="827.2" width="6.31" height="31.3" fill="#D9D9FF"/>
<rect x="1564.81" y="827.2" width="6.31" height="31.3" fill="#BFBFFF"/>
<rect x="1570.82" y="827.2" width="6.31" height="31.3" fill="#C7C7FF"/>
<rect x="1576.83" y="827.2" width="6.31" height="31.3" fill="#A6A6FF"/>
<rect x="1582.84" y="827.2" width="6.31" height="31.3" fill="#CCCCFF"/>
<rect x="1588.84" y="827.2" width="6.31" height="31.3" fill="#E6E6FF"/>
<rect x="1594.85" y="827.2" width="6.31" height="31.3" fill="#FFDBDB"/>
<rect x="1600.86" y="827.2" width="6.31" height="31.3" fill="#9999FF"/>
<rect x="1606.87" y="827.2" width="6.31" height="31.3" fill="#FFFAFA"/>
<rect x="1612.88" y="827.2" width="6.31" height="31.3" fill="#E6E6FF"/>
<rect x="1618.88" y="827.2" width="6.31" height="31.3" fill="#9C9CFF"/>
<rect x="1624.89" y="827.2" width="6.31" height="31.3" fill="#7D7DFF"/>
<rect x="1630.90" y="827.2" width="6.31" height="31.3" fill="#C7C7FF"/>
<rect x="1636.91" y="827.2" width="6.31" height="31.3" fill="#B0B0FF"/>
<rect x="1642.92" y="827.2" width="6.31" height="31.3" fill="#A1A1FF"/>
<rect x="1648.92" y="827.2" width="6.31" height="31.3" fill="#8282FF"/>
<rect x="1654.93" y="827.2" width="6.31" height="31.3" fill="#A6A6FF"/>
<rect x="1660.94" y="827.2" width="6.31" height="31.3" fill="#ABABFF"/>
<rect x="1666.95" y="827.2" width="6.31" height="31.3" fill="#C2C2FF"/>
<rect x="1672.96" y="827.2" width="6.31" height="31.3" fill="#2424FF"/>
<rect x="1678.96" y="827.2" width="6.31" height="31.3" fill="#FFFFFF"/>
<rect x="1684.97" y="827.2" width="6.31" height="31.3" fill="#A1A1FF"/>
<rect x="1690.98" y="827.2" width="6.31" height="31.3" fill="#2424FF"/>
<rect x="1696.99" y="827.2" width="6.31" height="31.3" fill="#A1A1FF"/>
<rect x="1703.00" y="827.2" width="6.31" height="31.3" fill="#F0F0FF"/>
<rect x="1709.00" y="827.2" width="6.31" height="31.3" fill="#CCCCFF"/>
<rect x="1715.01" y="827.2" width="6.31" height="31.3" fill="#ABABFF"/>
<rect x="1721.02" y="827.2" width="6.31" height="31.3" fill="#E6E6FF"/>
<rect x="1727.03" y="827.2" width="6.31" height="31.3" fill="#7D7DFF"/>
<rect x="1733.04" y="827.2" width="6.31" height="31.3" fill="#2424FF"/>
<rect x="1739.04" y="827.2" width="6.31" height="31.3" fill="#F0F0FF"/>
<rect x="1745.05" y="827.2" width="6.31" height="31.3" fill="#7D7DFF"/>
<rect x="1751.06" y="827.2" width="6.31" height="31.3" fill="#8787FF"/>
<rect x="1757.07" y="827.2" width="6.31" height="31.3" fill="#FAFAFF"/>
<rect x="1763.08" y="827.2" width="6.31" height="31.3" fill="#9696FF"/>
<rect x="1769.08" y="827.2" width="6.31" height="31.3" fill="#7373FF"/>
<rect x="1775.09" y="827.2" width="12.32" height="31.3" fill="#7D7DFF"/>
<rect x="1787.11" y="827.2" width="6.31" height="31.3" fill="#D6D6FF"/>
<rect x="1793.12" y="827.2" width="6.31" height="31.3" fill="#C2C2FF"/>
<rect x="1799.12" y="827.2" width="6.31" height="31.3" fill="#A6A6FF"/>
<rect x="1805.13" y="827.2" width="6.31" height="31.3" fill="#BABAFF"/>
<rect x="1811.14" y="827.2" width="6.31" height="31.3" fill="#FFDBDB"/>
<rect x="1817.15" y="827.2" width="6.31" height="31.3" fill="#8C8CFF"/>
<rect x="1823.16" y="827.2" width="6.31" height="31.3" fill="#9191FF"/>
<rect x="1829.16" y="827.2" width="6.31" height="31.3" fill="#C2C2FF"/>
<rect x="1835.17" y="827.2" width="6.31" height="31.3" fill="#A6A6FF"/>
<rect x="1841.18" y="827.2" width="6.31" height="31.3" fill="#FFA6A6"/>
<rect x="1847.19" y="827.2" width="6.31" height="31.3" fill="#FFFFFF"/>
<rect x="1853.20" y="827.2" width="6.31" height="31.3" fill="#E6E6FF"/>
<rect x="1859.20" y="827.2" width="6.31" height="31.3" fill="#FFABAB"/>
<rect x="1865.21" y="827.2" width="6.31" height="31.3" fill="#CCCCFF"/>
<rect x="1871.22" y="827.2" width="6.31" height="31.3" fill="#A6A6FF"/>
<rect x="1877.23" y="827.2" width="6.31" height="31.3" fill="#FFC7C7"/>
<rect x="1030.10" y="858.5" width="6.31" height="31.7" fill="#FFEDED"/>
<rect x="1036.11" y="858.5" width="6.31" height="31.7" fill="#FF4747"/>
<rect x="1042.12" y="858.5" width="6.31" height="31.7" fill="#FFB2B2"/>
<rect x="1048.12" y="858.5" width="6.31" height="31.7" fill="#FF6B6B"/>
<rect x="1054.13" y="858.5" width="6.31" height="31.7" fill="#BABAFF"/>
<rect x="1060.14" y="858.5" width="6.31" height="31.7" fill="#FF7373"/>
<rect x="1066.15" y="858.5" width="6.31" height="31.7" fill="#FFBFBF"/>
<rect x="1072.16" y="858.5" width="6.31" height="31.7" fill="#BABAFF"/>
<rect x="1078.16" y="858.5" width="6.31" height="31.7" fill="#FF7373"/>
<rect x="1084.17" y="858.5" width="6.31" height="31.7" fill="#FFE6E6"/>
<rect x="1090.18" y="858.5" width="6.31" height="31.7" fill="#FFEBEB"/>
<rect x="1096.19" y="858.5" width="6.31" height="31.7" fill="#BABAFF"/>
<rect x="1102.20" y="858.5" width="6.31" height="31.7" fill="#FFFAFA"/>
<rect x="1108.20" y="858.5" width="6.31" height="31.7" fill="#FF7373"/>
<rect x="1114.21" y="858.5" width="6.31" height="31.7" fill="#E6E6FF"/>
<rect x="1120.22" y="858.5" width="6.31" height="31.7" fill="#FF6E6E"/>
<rect x="1126.23" y="858.5" width="6.31" height="31.7" fill="#FF5252"/>
<rect x="1132.24" y="858.5" width="6.31" height="31.7" fill="#FFF0F0"/>
<rect x="1138.24" y="858.5" width="12.32" height="31.7" fill="#BABAFF"/>
<rect x="1150.26" y="858.5" width="6.31" height="31.7" fill="#FFF0F0"/>
<rect x="1156.27" y="858.5" width="6.31" height="31.7" fill="#FF7373"/>
<rect x="1162.28" y="858.5" width="6.31" height="31.7" fill="#BABAFF"/>
<rect x="1168.28" y="858.5" width="6.31" height="31.7" fill="#FFDBDB"/>
<rect x="1174.29" y="858.5" width="6.31" height="31.7" fill="#FF9999"/>
<rect x="1180.30" y="858.5" width="6.31" height="31.7" fill="#BABAFF"/>
<rect x="1186.31" y="858.5" width="6.31" height="31.7" fill="#FFE6E6"/>
<rect x="1192.32" y="858.5" width="12.32" height="31.7" fill="#BABAFF"/>
<rect x="1204.33" y="858.5" width="6.31" height="31.7" fill="#FF6161"/>
<rect x="1210.34" y="858.5" width="6.31" height="31.7" fill="#FFB2B2"/>
<rect x="1216.35" y="858.5" width="6.31" height="31.7" fill="#FFE6E6"/>
<rect x="1222.36" y="858.5" width="6.31" height="31.7" fill="#EBEBFF"/>
<rect x="1228.36" y="858.5" width="6.31" height="31.7" fill="#BABAFF"/>
<rect x="1234.37" y="858.5" width="12.32" height="31.7" fill="#F0F0FF"/>
<rect x="1246.39" y="858.5" width="6.31" height="31.7" fill="#FFE6E6"/>
<rect x="1252.40" y="858.5" width="6.31" height="31.7" fill="#FF9999"/>
<rect x="1258.40" y="858.5" width="6.31" height="31.7" fill="#FFC4C4"/>
<rect x="1264.41" y="858.5" width="6.31" height="31.7" fill="#BABAFF"/>
<rect x="1270.42" y="858.5" width="6.31" height="31.7" fill="#FFABAB"/>
<rect x="1276.43" y="858.5" width="6.31" height="31.7" fill="#FFBFBF"/>
<rect x="1282.44" y="858.5" width="6.31" height="31.7" fill="#BABAFF"/>
<rect x="1288.44" y="858.5" width="6.31" height="31.7" fill="#FFDBDB"/>
<rect x="1294.45" y="858.5" width="30.34" height="31.7" fill="#BABAFF"/>
<rect x="1324.49" y="858.5" width="6.31" height="31.7" fill="#FFFFFF"/>
<rect x="1330.50" y="858.5" width="6.31" height="31.7" fill="#FF8C8C"/>
<rect x="1336.51" y="858.5" width="6.31" height="31.7" fill="#FAFAFF"/>
<rect x="1342.52" y="858.5" width="6.31" height="31.7" fill="#BABAFF"/>
<rect x="1348.52" y="858.5" width="6.31" height="31.7" fill="#FFB2B2"/>
<rect x="1354.53" y="858.5" width="6.31" height="31.7" fill="#EDEDFF"/>
<rect x="1360.54" y="858.5" width="6.31" height="31.7" fill="#BABAFF"/>
<rect x="1366.55" y="858.5" width="6.31" height="31.7" fill="#EDEDFF"/>
<rect x="1372.56" y="858.5" width="18.32" height="31.7" fill="#BABAFF"/>
<rect x="1390.58" y="858.5" width="6.31" height="31.7" fill="#FF8C8C"/>
<rect x="1396.59" y="858.5" width="12.32" height="31.7" fill="#EDEDFF"/>
<rect x="1408.60" y="858.5" width="12.32" height="31.7" fill="#FFF7F7"/>
<rect x="1420.62" y="858.5" width="18.32" height="31.7" fill="#BABAFF"/>
<rect x="1438.64" y="858.5" width="6.31" height="31.7" fill="#FAFAFF"/>
<rect x="1444.65" y="858.5" width="12.32" height="31.7" fill="#EDEDFF"/>
<rect x="1456.67" y="858.5" width="6.31" height="31.7" fill="#FFC2C2"/>
<rect x="1462.68" y="858.5" width="12.32" height="31.7" fill="#BABAFF"/>
<rect x="1474.69" y="858.5" width="6.31" height="31.7" fill="#FFBABA"/>
<rect x="1480.70" y="858.5" width="6.31" height="31.7" fill="#E6E6FF"/>
<rect x="1486.71" y="858.5" width="6.31" height="31.7" fill="#BABAFF"/>
<rect x="1492.72" y="858.5" width="6.31" height="31.7" fill="#FFFAFA"/>
<rect x="1498.72" y="858.5" width="6.31" height="31.7" fill="#F0F0FF"/>
<rect x="1504.73" y="858.5" width="6.31" height="31.7" fill="#BABAFF"/>
<rect x="1510.74" y="858.5" width="6.31" height="31.7" fill="#FAFAFF"/>
<rect x="1516.75" y="858.5" width="6.31" height="31.7" fill="#F2F2FF"/>
<rect x="1522.76" y="858.5" width="6.31" height="31.7" fill="#BABAFF"/>
<rect x="1528.76" y="858.5" width="6.31" height="31.7" fill="#F0F0FF"/>
<rect x="1534.77" y="858.5" width="6.31" height="31.7" fill="#BABAFF"/>
<rect x="1540.78" y="858.5" width="6.31" height="31.7" fill="#FFF7F7"/>
<rect x="1546.79" y="858.5" width="6.31" height="31.7" fill="#F2F2FF"/>
<rect x="1552.80" y="858.5" width="12.32" height="31.7" fill="#BABAFF"/>
<rect x="1564.81" y="858.5" width="6.31" height="31.7" fill="#FCFCFF"/>
<rect x="1570.82" y="858.5" width="6.31" height="31.7" fill="#E6E6FF"/>
<rect x="1576.83" y="858.5" width="18.32" height="31.7" fill="#BABAFF"/>
<rect x="1594.85" y="858.5" width="6.31" height="31.7" fill="#FFF0F0"/>
<rect x="1600.86" y="858.5" width="6.31" height="31.7" fill="#BABAFF"/>
<rect x="1606.87" y="858.5" width="6.31" height="31.7" fill="#FFABAB"/>
<rect x="1612.88" y="858.5" width="6.31" height="31.7" fill="#BABAFF"/>
<rect x="1618.88" y="858.5" width="6.31" height="31.7" fill="#FFEDED"/>
<rect x="1624.89" y="858.5" width="12.32" height="31.7" fill="#BABAFF"/>
<rect x="1636.91" y="858.5" width="6.31" height="31.7" fill="#E6E6FF"/>
<rect x="1642.92" y="858.5" width="6.31" height="31.7" fill="#FFEDED"/>
<rect x="1648.92" y="858.5" width="6.31" height="31.7" fill="#BABAFF"/>
<rect x="1654.93" y="858.5" width="6.31" height="31.7" fill="#E6E6FF"/>
<rect x="1660.94" y="858.5" width="6.31" height="31.7" fill="#BABAFF"/>
<rect x="1666.95" y="858.5" width="6.31" height="31.7" fill="#FAFAFF"/>
<rect x="1672.96" y="858.5" width="6.31" height="31.7" fill="#FFD6D6"/>
<rect x="1678.96" y="858.5" width="6.31" height="31.7" fill="#FFCCCC"/>
<rect x="1684.97" y="858.5" width="12.32" height="31.7" fill="#BABAFF"/>
<rect x="1696.99" y="858.5" width="6.31" height="31.7" fill="#FFFAFA"/>
<rect x="1703.00" y="858.5" width="6.31" height="31.7" fill="#BABAFF"/>
<rect x="1709.00" y="858.5" width="6.31" height="31.7" fill="#FFF0F0"/>
<rect x="1715.01" y="858.5" width="6.31" height="31.7" fill="#BABAFF"/>
<rect x="1721.02" y="858.5" width="6.31" height="31.7" fill="#FFFAFA"/>
<rect x="1727.03" y="858.5" width="6.31" height="31.7" fill="#FFF0F0"/>
<rect x="1733.04" y="858.5" width="6.31" height="31.7" fill="#FAFAFF"/>
<rect x="1739.04" y="858.5" width="12.32" height="31.7" fill="#BABAFF"/>
<rect x="1751.06" y="858.5" width="6.31" height="31.7" fill="#FFFAFA"/>
<rect x="1757.07" y="858.5" width="12.32" height="31.7" fill="#BABAFF"/>
<rect x="1769.08" y="858.5" width="6.31" height="31.7" fill="#FFCCCC"/>
<rect x="1775.09" y="858.5" width="6.31" height="31.7" fill="#BABAFF"/>
<rect x="1781.10" y="858.5" width="6.31" height="31.7" fill="#FFFFFF"/>
<rect x="1787.11" y="858.5" width="24.33" height="31.7" fill="#BABAFF"/>
<rect x="1811.14" y="858.5" width="6.31" height="31.7" fill="#FF3D3D"/>
<rect x="1817.15" y="858.5" width="12.32" height="31.7" fill="#BABAFF"/>
<rect x="1829.16" y="858.5" width="6.31" height="31.7" fill="#FF6666"/>
<rect x="1835.17" y="858.5" width="6.31" height="31.7" fill="#BABAFF"/>
<rect x="1841.18" y="858.5" width="6.31" height="31.7" fill="#FF2424"/>
<rect x="1847.19" y="858.5" width="6.31" height="31.7" fill="#BABAFF"/>
<rect x="1853.20" y="858.5" width="6.31" height="31.7" fill="#FF4040"/>
<rect x="1859.20" y="858.5" width="6.31" height="31.7" fill="#FF5454"/>
<rect x="1865.21" y="858.5" width="6.31" height="31.7" fill="#FF4747"/>
<rect x="1871.22" y="858.5" width="6.31" height="31.7" fill="#FFC7C7"/>
<rect x="1877.23" y="858.5" width="6.31" height="31.7" fill="#FF0000"/>
</g>
<text transform="translate(1901.8 819.8) scale(1 1.04)" font-size="15.8" font-weight="bold" textLength="84.1" lengthAdjust="spacingAndGlyphs">MIR100HG</text>
<text transform="translate(1901.8 848.9) scale(1 1.04)" font-size="15.8" font-weight="bold" textLength="90.4" lengthAdjust="spacingAndGlyphs">AC107464.2</text>
<text transform="translate(1901.8 878.9) scale(1 1.04)" font-size="15.8" font-weight="bold" textLength="89.5" lengthAdjust="spacingAndGlyphs">AP001527.2</text>
<defs><linearGradient id="cbar" x1="0" y1="0" x2="0" y2="1"><stop offset="0" stop-color="#FF0000"/><stop offset="0.04" stop-color="#FF0000"/><stop offset="0.5" stop-color="#FFFFFF"/><stop offset="0.96" stop-color="#0000FF"/><stop offset="1" stop-color="#0000FF"/></linearGradient></defs>
<rect x="1893.7" y="895" width="19.7" height="268.3" fill="url(#cbar)"/>
<text transform="translate(1921 920) scale(1 1.04)" font-size="12.4" fill="#222">3</text>
<text transform="translate(1921 957.93) scale(1 1.04)" font-size="12.4" fill="#222">2</text>
<text transform="translate(1921 995.86) scale(1 1.04)" font-size="12.4" fill="#222">1</text>
<text transform="translate(1921 1033.79) scale(1 1.04)" font-size="12.4" fill="#222">0</text>
<text transform="translate(1921 1071.72) scale(1 1.04)" font-size="12.4" fill="#222">−1</text>
<text transform="translate(1921 1109.65) scale(1 1.04)" font-size="12.4" fill="#222">−2</text>
<text transform="translate(1921 1147.58) scale(1 1.04)" font-size="12.4" fill="#222">−3</text>
<line x1="1938.4" y1="909.5" x2="1938.4" y2="927" stroke="#55DDE4" stroke-width="0.9"/>
<line x1="1938.4" y1="927" x2="1938.4" y2="945" stroke="#FFA9A2" stroke-width="0.9"/>
<line x1="1938.4" y1="897.5" x2="1938.4" y2="903.5" stroke="#555" stroke-width="0.8"/>
<g fill="#0000FF">
<circle cx="1064.1" cy="1124" r="5.2"/><circle cx="1069.7" cy="1108.2" r="5.2"/><circle cx="1075.3" cy="1094.4" r="5.2"/><circle cx="1080.9" cy="1031.8" r="5.2"/><circle cx="1086.5" cy="1141" r="5.2"/><circle cx="1092" cy="1110.1" r="5.2"/><circle cx="1097.6" cy="1133.4" r="5.2"/><circle cx="1103.2" cy="1140.7" r="5.2"/><circle cx="1108.8" cy="1143.6" r="5.2"/><circle cx="1114.4" cy="1105.2" r="5.2"/><circle cx="1120" cy="898.9" r="5.2"/><circle cx="1125.6" cy="1089.2" r="5.2"/><circle cx="1131.2" cy="1089.2" r="5.2"/><circle cx="1136.8" cy="1143.4" r="5.2"/><circle cx="1142.3" cy="1131.3" r="5.2"/><circle cx="1147.9" cy="1115.1" r="5.2"/><circle cx="1153.5" cy="1137.2" r="5.2"/><circle cx="1159.1" cy="1125.6" r="5.2"/><circle cx="1164.7" cy="1145.7" r="5.2"/><circle cx="1170.3" cy="1128.5" r="5.2"/><circle cx="1175.9" cy="1146.4" r="5.2"/><circle cx="1181.5" cy="1147.9" r="5.2"/><circle cx="1187.1" cy="1143.9" r="5.2"/><circle cx="1192.7" cy="1141.4" r="5.2"/><circle cx="1198.2" cy="1138.4" r="5.2"/><circle cx="1203.8" cy="1133.8" r="5.2"/><circle cx="1209.4" cy="1124.9" r="5.2"/><circle cx="1215" cy="1119.7" r="5.2"/><circle cx="1220.6" cy="1118.4" r="5.2"/><circle cx="1226.2" cy="1130.2" r="5.2"/><circle cx="1231.8" cy="1146" r="5.2"/><circle cx="1237.4" cy="1143.1" r="5.2"/><circle cx="1243" cy="1144.3" r="5.2"/><circle cx="1248.6" cy="1048.9" r="5.2"/><circle cx="1254.2" cy="968" r="5.2"/><circle cx="1259.7" cy="1107.3" r="5.2"/><circle cx="1265.3" cy="1095.1" r="5.2"/><circle cx="1270.9" cy="1133.4" r="5.2"/><circle cx="1276.5" cy="1133.8" r="5.2"/><circle cx="1282.1" cy="898.9" r="5.2"/><circle cx="1287.7" cy="1139" r="5.2"/><circle cx="1293.3" cy="1079.1" r="5.2"/><circle cx="1298.9" cy="1082.3" r="5.2"/><circle cx="1304.5" cy="1089.8" r="5.2"/><circle cx="1310" cy="1137.1" r="5.2"/><circle cx="1315.6" cy="1141.4" r="5.2"/><circle cx="1321.2" cy="1117" r="5.2"/><circle cx="1326.8" cy="1109.3" r="5.2"/><circle cx="1332.4" cy="1101.4" r="5.2"/><circle cx="1338" cy="1119.1" r="5.2"/><circle cx="1343.6" cy="1140.7" r="5.2"/><circle cx="1349.2" cy="1096.8" r="5.2"/><circle cx="1354.8" cy="1132.4" r="5.2"/><circle cx="1360.4" cy="1146" r="5.2"/><circle cx="1366" cy="1130.9" r="5.2"/><circle cx="1371.5" cy="1140" r="5.2"/><circle cx="1377.1" cy="1141" r="5.2"/><circle cx="1382.7" cy="1138.1" r="5.2"/><circle cx="1388.3" cy="1143.1" r="5.2"/><circle cx="1393.9" cy="1137.8" r="5.2"/><circle cx="1399.5" cy="1132.4" r="5.2"/><circle cx="1405.1" cy="1136.4" r="5.2"/><circle cx="1410.7" cy="1137.7" r="5.2"/><circle cx="1416.3" cy="1120.6" r="5.2"/><circle cx="1421.8" cy="1096" r="5.2"/><circle cx="1427.4" cy="1081.6" r="5.2"/><circle cx="1433" cy="1049.7" r="5.2"/><circle cx="1438.6" cy="1094.2" r="5.2"/>
</g>
<g fill="#FF0000">
<circle cx="1444.2" cy="1129.9" r="5.2"/><circle cx="1449.8" cy="1067.4" r="5.2"/><circle cx="1455.4" cy="1141" r="5.2"/><circle cx="1461" cy="1133.1" r="5.2"/><circle cx="1466.6" cy="1135.9" r="5.2"/><circle cx="1472.2" cy="1146.3" r="5.2"/><circle cx="1477.8" cy="1105.3" r="5.2"/><circle cx="1483.3" cy="1080" r="5.2"/><circle cx="1488.9" cy="1135.5" r="5.2"/><circle cx="1494.5" cy="1118.4" r="5.2"/><circle cx="1500.1" cy="908.4" r="5.2"/><circle cx="1505.7" cy="1138.4" r="5.2"/><circle cx="1511.3" cy="1136.4" r="5.2"/><circle cx="1516.9" cy="898.8" r="5.2"/><circle cx="1522.5" cy="1074.3" r="5.2"/><circle cx="1528.1" cy="1132.6" r="5.2"/><circle cx="1533.6" cy="1123.3" r="5.2"/><circle cx="1539.2" cy="1132.8" r="5.2"/><circle cx="1544.8" cy="1141.1" r="5.2"/><circle cx="1550.4" cy="1116" r="5.2"/><circle cx="1556" cy="1150.3" r="5.2"/><circle cx="1561.6" cy="1138.8" r="5.2"/><circle cx="1567.2" cy="1119.6" r="5.2"/><circle cx="1572.8" cy="1131.2" r="5.2"/><circle cx="1578.4" cy="1123.7" r="5.2"/><circle cx="1584" cy="1134.5" r="5.2"/><circle cx="1589.5" cy="1128.5" r="5.2"/><circle cx="1595.1" cy="992.6" r="5.2"/><circle cx="1600.7" cy="1092.7" r="5.2"/><circle cx="1606.3" cy="997.5" r="5.2"/><circle cx="1611.9" cy="1123.4" r="5.2"/><circle cx="1617.5" cy="1117.5" r="5.2"/><circle cx="1623.1" cy="1132.4" r="5.2"/><circle cx="1628.7" cy="1131.8" r="5.2"/><circle cx="1634.3" cy="1121.9" r="5.2"/><circle cx="1639.9" cy="1112.8" r="5.2"/><circle cx="1645.5" cy="1123" r="5.2"/><circle cx="1651" cy="1118.3" r="5.2"/><circle cx="1656.6" cy="1132.6" r="5.2"/><circle cx="1662.2" cy="1027.4" r="5.2"/><circle cx="1667.8" cy="1133.5" r="5.2"/><circle cx="1673.4" cy="1121.1" r="5.2"/><circle cx="1679" cy="1092.5" r="5.2"/><circle cx="1684.6" cy="991.1" r="5.2"/><circle cx="1690.2" cy="1110.4" r="5.2"/><circle cx="1695.8" cy="1114.4" r="5.2"/><circle cx="1701.4" cy="1140.6" r="5.2"/><circle cx="1706.9" cy="1138.4" r="5.2"/><circle cx="1712.5" cy="1100.3" r="5.2"/><circle cx="1718.1" cy="1135.5" r="5.2"/><circle cx="1723.7" cy="1128.8" r="5.2"/><circle cx="1729.3" cy="1111.9" r="5.2"/><circle cx="1734.9" cy="1132.6" r="5.2"/><circle cx="1740.5" cy="1139.1" r="5.2"/><circle cx="1746.1" cy="1120.6" r="5.2"/><circle cx="1751.7" cy="1137.7" r="5.2"/><circle cx="1757.2" cy="898.9" r="5.2"/><circle cx="1762.8" cy="1134.9" r="5.2"/><circle cx="1768.4" cy="1124.9" r="5.2"/><circle cx="1774" cy="1134.9" r="5.2"/><circle cx="1779.6" cy="1120.1" r="5.2"/><circle cx="1785.2" cy="1059.9" r="5.2"/><circle cx="1790.8" cy="1144.1" r="5.2"/><circle cx="1796.4" cy="1140.7" r="5.2"/><circle cx="1802" cy="1125.7" r="5.2"/><circle cx="1807.6" cy="1105.3" r="5.2"/><circle cx="1813.1" cy="1141" r="5.2"/><circle cx="1818.7" cy="1143.9" r="5.2"/><circle cx="1824.3" cy="1141.1" r="5.2"/><circle cx="1829.9" cy="1059" r="5.2"/><circle cx="1835.5" cy="1114.8" r="5.2"/><circle cx="1841.1" cy="1141.7" r="5.2"/><circle cx="1846.7" cy="1001.9" r="5.2"/><circle cx="1852.3" cy="1132.6" r="5.2"/>
</g>
<path d="M1064.1 1431.6V1355.3M1069.7 1431.6V1354.1M1075.3 1431.6V1243.7M1080.9 1431.6V1347.4M1086.5 1431.6V1276.5M1092 1431.6V1283.2M1097.6 1431.6V1391.2M1103.2 1431.6V1326.5M1108.8 1431.6V1283.7M1114.4 1431.6V1368.2M1120 1431.6V1170.4M1125.6 1431.6V1386.5M1131.2 1431.6V1358.7M1136.8 1431.6V1296.3M1142.3 1431.6V1170.4M1147.9 1431.6V1264.6M1153.5 1431.6V1255.3M1159.1 1431.6V1398M1164.7 1431.6V1345.8M1170.3 1431.6V1325.8M1175.9 1431.6V1372.8M1181.5 1431.6V1379.7M1187.1 1431.6V1376.4M1192.7 1431.6V1261.4M1198.2 1431.6V1290.1M1203.8 1431.6V1284.8M1209.4 1431.6V1422.5M1215 1431.6V1348M1220.6 1431.6V1300.5M1226.2 1431.6V1252M1231.8 1431.6V1325.7M1237.4 1431.6V1326.1M1243 1431.6V1336.9M1248.6 1431.6V1320.8M1254.2 1431.6V1228.3M1259.7 1431.6V1379.6M1265.3 1431.6V1303.8M1270.9 1431.6V1368.5M1276.5 1431.6V1382.2M1282.1 1431.6V1374.3M1287.7 1431.6V1292.6M1293.3 1431.6V1348.8M1298.9 1431.6V1234.3M1304.5 1431.6V1355.3M1310 1431.6V1302.4M1315.6 1431.6V1290.9M1321.2 1431.6V1244.6M1326.8 1431.6V1318.6M1332.4 1431.6V1319.3M1338 1431.6V1329.7M1343.6 1431.6V1294.2M1349.2 1431.6V1255.3M1354.8 1431.6V1256.1M1360.4 1431.6V1274.8M1366 1431.6V1230.5M1371.5 1431.6V1267.1M1377.1 1431.6V1300.2M1382.7 1431.6V1276.5M1388.3 1431.6V1306.4M1393.9 1431.6V1314.2M1399.5 1431.6V1239.8M1405.1 1431.6V1359.9M1410.7 1431.6V1395.6M1416.3 1431.6V1303.5M1421.8 1431.6V1263.5M1427.4 1431.6V1345.2M1433 1431.6V1360.3M1438.6 1431.6V1333.3" fill="none" stroke="#2A2AF2" stroke-width="1.5"/>
<path d="M1444.2 1431.6V1315M1449.8 1431.6V1329.7M1455.4 1431.6V1325M1461 1431.6V1240.2M1466.6 1431.6V1319.3M1472.2 1431.6V1326.8M1477.8 1431.6V1186.2M1483.3 1431.6V1290.1M1488.9 1431.6V1395.1M1494.5 1431.6V1404.9M1500.1 1431.6V1343.6M1505.7 1431.6V1328.3M1511.3 1431.6V1335.4M1516.9 1431.6V1254.5M1522.5 1431.6V1380.5M1528.1 1431.6V1294M1533.6 1431.6V1375.3M1539.2 1431.6V1287M1544.8 1431.6V1314.2M1550.4 1431.6V1326.5M1556 1431.6V1302.4M1561.6 1431.6V1382.9M1567.2 1431.6V1279.1M1572.8 1431.6V1292.6M1578.4 1431.6V1356M1584 1431.6V1203.6M1589.5 1431.6V1306M1595.1 1431.6V1336.6M1600.7 1431.6V1347.2M1606.3 1431.6V1308.8M1611.9 1431.6V1299.2M1617.5 1431.6V1286.3M1623.1 1431.6V1221.8M1628.7 1431.6V1309.9M1634.3 1431.6V1301.4M1639.9 1431.6V1254.5M1645.5 1431.6V1298.1M1651 1431.6V1288.4M1656.6 1431.6V1318.6M1662.2 1431.6V1306.7M1667.8 1431.6V1313.2M1673.4 1431.6V1348.1M1679 1431.6V1170.4M1684.6 1431.6V1332.6M1690.2 1431.6V1176.3M1695.8 1431.6V1353.4M1701.4 1431.6V1337.9M1706.9 1431.6V1284M1712.5 1431.6V1389.7M1718.1 1431.6V1338.3M1723.7 1431.6V1320.8M1729.3 1431.6V1380M1734.9 1431.6V1409.9M1740.5 1431.6V1305.2M1746.1 1431.6V1321.4M1751.7 1431.6V1303.1M1757.2 1431.6V1316.8M1762.8 1431.6V1312.4M1768.4 1431.6V1298.5M1774 1431.6V1279.8M1779.6 1431.6V1238.4M1785.2 1431.6V1189.9M1790.8 1431.6V1370.7M1796.4 1431.6V1270.4M1802 1431.6V1170.4M1807.6 1431.6V1347.2M1813.1 1431.6V1338.3M1818.7 1431.6V1318.9M1824.3 1431.6V1200.3M1829.9 1431.6V1308.4M1835.5 1431.6V1275.5M1841.1 1431.6V1266.7M1846.7 1431.6V1215.7M1852.3 1431.6V1306" fill="none" stroke="#F03A3A" stroke-width="1.5"/>
<line x1="1438.3" y1="893" x2="1438.3" y2="1431.5" stroke="#1a1a1a" stroke-width="1.9" stroke-dasharray="5.6 4.9"/>
<path d="M1032.1 889.5V1432.1H1884.1V890.3" fill="none" stroke="#111" stroke-width="1.6"/>
<line x1="1032.1" y1="1161" x2="1884.1" y2="1161" stroke="#000" stroke-width="1.7"/>
<line x1="1019.6" y1="927.1" x2="1032.1" y2="927.1" stroke="#000" stroke-width="1.7"/>
<text transform="translate(1001.8 927.1) rotate(-90) scale(1 0.98)" font-size="20.9" text-anchor="middle">1000</text>
<line x1="1019.6" y1="973.2" x2="1032.1" y2="973.2" stroke="#000" stroke-width="1.7"/>
<line x1="1019.6" y1="1019.3" x2="1032.1" y2="1019.3" stroke="#000" stroke-width="1.7"/>
<text transform="translate(1001.8 1019.3) rotate(-90) scale(1 0.98)" font-size="20.9" text-anchor="middle">600</text>
<line x1="1019.6" y1="1065.4" x2="1032.1" y2="1065.4" stroke="#000" stroke-width="1.7"/>
<line x1="1019.6" y1="1111.5" x2="1032.1" y2="1111.5" stroke="#000" stroke-width="1.7"/>
<text transform="translate(1001.8 1111.5) rotate(-90) scale(1 0.98)" font-size="20.9" text-anchor="middle">200</text>
<line x1="1019.6" y1="1157.6" x2="1032.1" y2="1157.6" stroke="#000" stroke-width="1.7"/>
<text transform="translate(1001.8 1157.6) rotate(-90) scale(1 0.98)" font-size="20.9" text-anchor="middle">0</text>
<line x1="1019.6" y1="1176.1" x2="1032.1" y2="1176.1" stroke="#000" stroke-width="1.7"/>
<text transform="translate(1001.8 1176.1) rotate(-90) scale(1 0.98)" font-size="20.9" text-anchor="middle">14</text>
<line x1="1019.6" y1="1216.6" x2="1032.1" y2="1216.6" stroke="#000" stroke-width="1.7"/>
<line x1="1019.6" y1="1257" x2="1032.1" y2="1257" stroke="#000" stroke-width="1.7"/>
<text transform="translate(1001.8 1257.04) rotate(-90) scale(1 0.98)" font-size="20.9" text-anchor="middle">10</text>
<line x1="1019.6" y1="1297.5" x2="1032.1" y2="1297.5" stroke="#000" stroke-width="1.7"/>
<text transform="translate(1001.8 1297.51) rotate(-90) scale(1 0.98)" font-size="20.9" text-anchor="middle">8</text>
<line x1="1019.6" y1="1338" x2="1032.1" y2="1338" stroke="#000" stroke-width="1.7"/>
<text transform="translate(1001.8 1337.98) rotate(-90) scale(1 0.98)" font-size="20.9" text-anchor="middle">6</text>
<line x1="1019.6" y1="1378.4" x2="1032.1" y2="1378.4" stroke="#000" stroke-width="1.7"/>
<text transform="translate(1001.8 1378.45) rotate(-90) scale(1 0.98)" font-size="20.9" text-anchor="middle">4</text>
<line x1="1019.6" y1="1418.9" x2="1032.1" y2="1418.9" stroke="#000" stroke-width="1.7"/>
<text transform="translate(1001.8 1418.92) rotate(-90) scale(1 0.98)" font-size="20.9" text-anchor="middle">2</text>
<line x1="1058.2" y1="1432.1" x2="1058.2" y2="1445.4" stroke="#000" stroke-width="1.6"/>
<line x1="1058.2" y1="1158.8" x2="1058.2" y2="1161" stroke="#000" stroke-width="1.4"/>
<text transform="translate(1058.2 1477.9) scale(1 1.04)" font-size="20.5" text-anchor="middle">0</text>
<line x1="1170" y1="1432.1" x2="1170" y2="1445.4" stroke="#000" stroke-width="1.6"/>
<line x1="1170" y1="1158.8" x2="1170" y2="1161" stroke="#000" stroke-width="1.4"/>
<text transform="translate(1170 1477.9) scale(1 1.04)" font-size="20.5" text-anchor="middle">20</text>
<line x1="1281.8" y1="1432.1" x2="1281.8" y2="1445.4" stroke="#000" stroke-width="1.6"/>
<line x1="1281.8" y1="1158.8" x2="1281.8" y2="1161" stroke="#000" stroke-width="1.4"/>
<text transform="translate(1281.8 1477.9) scale(1 1.04)" font-size="20.5" text-anchor="middle">40</text>
<line x1="1393.6" y1="1432.1" x2="1393.6" y2="1445.4" stroke="#000" stroke-width="1.6"/>
<line x1="1393.6" y1="1158.8" x2="1393.6" y2="1161" stroke="#000" stroke-width="1.4"/>
<text transform="translate(1393.6 1477.9) scale(1 1.04)" font-size="20.5" text-anchor="middle">60</text>
<line x1="1505.4" y1="1432.1" x2="1505.4" y2="1445.4" stroke="#000" stroke-width="1.6"/>
<line x1="1505.4" y1="1158.8" x2="1505.4" y2="1161" stroke="#000" stroke-width="1.4"/>
<text transform="translate(1505.4 1477.9) scale(1 1.04)" font-size="20.5" text-anchor="middle">80</text>
<line x1="1617.2" y1="1432.1" x2="1617.2" y2="1445.4" stroke="#000" stroke-width="1.6"/>
<line x1="1617.2" y1="1158.8" x2="1617.2" y2="1161" stroke="#000" stroke-width="1.4"/>
<text transform="translate(1617.2 1477.9) scale(1 1.04)" font-size="20.5" text-anchor="middle">100</text>
<line x1="1729" y1="1432.1" x2="1729" y2="1445.4" stroke="#000" stroke-width="1.6"/>
<line x1="1729" y1="1158.8" x2="1729" y2="1161" stroke="#000" stroke-width="1.4"/>
<text transform="translate(1729 1477.9) scale(1 1.04)" font-size="20.5" text-anchor="middle">120</text>
<line x1="1840.8" y1="1432.1" x2="1840.8" y2="1445.4" stroke="#000" stroke-width="1.6"/>
<line x1="1840.8" y1="1158.8" x2="1840.8" y2="1161" stroke="#000" stroke-width="1.4"/>
<text transform="translate(1840.8 1477.9) scale(1 1.04)" font-size="20.5" text-anchor="middle">140</text>
<text transform="translate(951.8 1024.2) rotate(-90) scale(1 1.04)" font-size="20.9" text-anchor="middle">Somatic mutation count</text>
<text transform="translate(951.8 1296.4) rotate(-90) scale(1 1.04)" font-size="20.9" text-anchor="middle">KRAS expression</text>
</g>
<g id="panelEF">
<text transform="translate(7.4 1558) scale(1 1.04)" font-size="42.5" font-weight="bold">E</text>
<text transform="translate(430.6 1561.8) scale(1 1.04)" font-size="42.5" font-weight="bold">F</text>
<line x1="169.9" y1="1775.5" x2="169.9" y2="1887.8" stroke="#0000FF" stroke-width="1.8"/>
<line x1="169.9" y1="1962.9" x2="169.9" y2="1977" stroke="#0000FF" stroke-width="1.8"/>
<rect x="124" y="1887.8" width="91.9" height="75.1" fill="none" stroke="#0000FF" stroke-width="1.8"/>
<line x1="123.1" y1="1945.3" x2="216.8" y2="1945.3" stroke="#0000FF" stroke-width="3.8"/>
<line x1="300.2" y1="1708.3" x2="300.2" y2="1846.6" stroke="#FF0000" stroke-width="1.8"/>
<line x1="300.2" y1="1953.4" x2="300.2" y2="1994.3" stroke="#FF0000" stroke-width="1.8"/>
<rect x="254.6" y="1846.6" width="91.3" height="106.8" fill="none" stroke="#FF0000" stroke-width="1.8"/>
<line x1="253.7" y1="1927.6" x2="346.8" y2="1927.6" stroke="#FF0000" stroke-width="3.8"/>
<g fill="#0000FF">
<circle cx="190.3" cy="1616.2" r="4.4"/><circle cx="185.9" cy="1756.3" r="4.4"/><circle cx="149.4" cy="1769.6" r="4.4"/><circle cx="182.2" cy="1774.7" r="4.4"/><circle cx="177.1" cy="1791.9" r="4.4"/><circle cx="159.3" cy="1802.2" r="4.4"/><circle cx="188.7" cy="1800.4" r="4.4"/><circle cx="166.3" cy="1834.1" r="4.4"/><circle cx="152.4" cy="1848.2" r="4.4"/><circle cx="170.7" cy="1856.9" r="4.4"/><circle cx="144.6" cy="1873.2" r="4.4"/><circle cx="151.3" cy="1874.3" r="4.4"/><circle cx="176.2" cy="1882.4" r="4.4"/><circle cx="159.3" cy="1885.3" r="4.4"/><circle cx="163.8" cy="1887.8" r="4.4"/><circle cx="191.3" cy="1891.5" r="4.4"/><circle cx="196.2" cy="1890.4" r="4.4"/><circle cx="196.2" cy="1901.9" r="4.4"/><circle cx="178.5" cy="1905.1" r="4.4"/><circle cx="192.5" cy="1908.4" r="4.4"/><circle cx="165.9" cy="1909.6" r="4.4"/><circle cx="151.9" cy="1922.4" r="4.4"/><circle cx="153.4" cy="1930.4" r="4.4"/><circle cx="170" cy="1926.5" r="4.4"/><circle cx="175.1" cy="1928.4" r="4.4"/><circle cx="179.6" cy="1929.7" r="4.4"/><circle cx="184.3" cy="1925" r="4.4"/><circle cx="187.9" cy="1927.5" r="4.4"/><circle cx="182.2" cy="1938.5" r="4.4"/><circle cx="162.4" cy="1944.9" r="4.4"/><circle cx="170" cy="1945.6" r="4.4"/><circle cx="156.8" cy="1949.7" r="4.4"/><circle cx="161.9" cy="1951.5" r="4.4"/><circle cx="183.2" cy="1948.5" r="4.4"/><circle cx="184.7" cy="1954" r="4.4"/><circle cx="168.5" cy="1953.7" r="4.4"/><circle cx="174.4" cy="1956.6" r="4.4"/><circle cx="153.8" cy="1958.1" r="4.4"/><circle cx="145.7" cy="1960.6" r="4.4"/><circle cx="163.4" cy="1961" r="4.4"/><circle cx="170" cy="1960.3" r="4.4"/><circle cx="143.5" cy="1964" r="4.4"/><circle cx="148.7" cy="1965.4" r="4.4"/><circle cx="153.1" cy="1967.6" r="4.4"/><circle cx="164.1" cy="1967.6" r="4.4"/><circle cx="184.7" cy="1966.9" r="4.4"/><circle cx="183.2" cy="1971.3" r="4.4"/><circle cx="143.5" cy="1971.8" r="4.4"/><circle cx="149.4" cy="1971.3" r="4.4"/><circle cx="172.2" cy="1970.6" r="4.4"/><circle cx="179.6" cy="1972.8" r="4.4"/><circle cx="161.9" cy="1975.7" r="4.4"/><circle cx="165.6" cy="1977.2" r="4.4"/><circle cx="170.7" cy="1975.7" r="4.4"/><circle cx="151.6" cy="1978.4" r="4.4"/>
</g>
<g fill="#FF0000">
<circle cx="276.5" cy="1616.2" r="4.4"/><circle cx="296" cy="1616.2" r="4.4"/><circle cx="309.6" cy="1616.2" r="4.4"/><circle cx="318.5" cy="1616.2" r="4.4"/><circle cx="322.2" cy="1616.2" r="4.4"/><circle cx="292.2" cy="1653.7" r="4.4"/><circle cx="280.1" cy="1707.8" r="4.4"/><circle cx="285.9" cy="1721.6" r="4.4"/><circle cx="296.5" cy="1743.4" r="4.4"/><circle cx="320" cy="1761.5" r="4.4"/><circle cx="304.6" cy="1803.4" r="4.4"/><circle cx="279.9" cy="1818.8" r="4.4"/><circle cx="314.6" cy="1820.6" r="4.4"/><circle cx="284.4" cy="1834.6" r="4.4"/><circle cx="291.6" cy="1837.8" r="4.4"/><circle cx="297.9" cy="1843.7" r="4.4"/><circle cx="294.3" cy="1847.1" r="4.4"/><circle cx="313.1" cy="1844.9" r="4.4"/><circle cx="313.4" cy="1849" r="4.4"/><circle cx="281.8" cy="1853.4" r="4.4"/><circle cx="314.1" cy="1877.2" r="4.4"/><circle cx="320.7" cy="1880.1" r="4.4"/><circle cx="296.8" cy="1883.8" r="4.4"/><circle cx="279.1" cy="1889" r="4.4"/><circle cx="276.6" cy="1893.7" r="4.4"/><circle cx="299.1" cy="1896.6" r="4.4"/><circle cx="307.5" cy="1909.3" r="4.4"/><circle cx="324.4" cy="1915.1" r="4.4"/><circle cx="301.9" cy="1918.7" r="4.4"/><circle cx="322.2" cy="1918.4" r="4.4"/><circle cx="317.8" cy="1921.8" r="4.4"/><circle cx="282.8" cy="1925" r="4.4"/><circle cx="307.5" cy="1925" r="4.4"/><circle cx="325.1" cy="1926.9" r="4.4"/><circle cx="306" cy="1929.4" r="4.4"/><circle cx="295.7" cy="1934.9" r="4.4"/><circle cx="302.4" cy="1934.6" r="4.4"/><circle cx="322.9" cy="1938.2" r="4.4"/><circle cx="325.9" cy="1940.7" r="4.4"/><circle cx="297.2" cy="1942.6" r="4.4"/><circle cx="306.8" cy="1944.1" r="4.4"/><circle cx="284.7" cy="1947.5" r="4.4"/><circle cx="287.6" cy="1951.5" r="4.4"/><circle cx="302.4" cy="1948.5" r="4.4"/><circle cx="297.9" cy="1951.5" r="4.4"/><circle cx="310.4" cy="1952.2" r="4.4"/><circle cx="293.5" cy="1955.9" r="4.4"/><circle cx="289.1" cy="1958.8" r="4.4"/><circle cx="297.9" cy="1958.1" r="4.4"/><circle cx="309.7" cy="1961" r="4.4"/><circle cx="318.5" cy="1960" r="4.4"/><circle cx="317.8" cy="1963.7" r="4.4"/><circle cx="288.4" cy="1965.1" r="4.4"/><circle cx="295" cy="1964.7" r="4.4"/><circle cx="278.8" cy="1966.2" r="4.4"/><circle cx="275.1" cy="1967.6" r="4.4"/><circle cx="291" cy="1975.7" r="4.4"/><circle cx="307.2" cy="1975.3" r="4.4"/><circle cx="304.3" cy="1984.3" r="4.4"/><circle cx="310.9" cy="1995.1" r="4.4"/>
</g>
<path d="M169.6 1608.6V1597.3H300.3V1608.6" fill="none" stroke="#1a1a1a" stroke-width="1.4"/>
<text transform="translate(234.95 1592.9) scale(1 1.04)" font-size="19.8" text-anchor="middle">0.077</text>
<line x1="91.7" y1="1577.2" x2="91.7" y2="2015.4" stroke="#000" stroke-width="1.8"/>
<line x1="90.8" y1="2014.5" x2="378.1" y2="2014.5" stroke="#000" stroke-width="1.8"/>
<line x1="85.9" y1="1579.8" x2="91.7" y2="1579.8" stroke="#000" stroke-width="1.8"/>
<text transform="translate(81.9 1587.3) scale(1 1.04)" font-size="22" text-anchor="end">1000</text>
<line x1="85.9" y1="1684" x2="91.7" y2="1684" stroke="#000" stroke-width="1.8"/>
<text transform="translate(81.9 1691.5) scale(1 1.04)" font-size="22" text-anchor="end">750</text>
<line x1="85.9" y1="1788.6" x2="91.7" y2="1788.6" stroke="#000" stroke-width="1.8"/>
<text transform="translate(81.9 1796.1) scale(1 1.04)" font-size="22" text-anchor="end">500</text>
<line x1="85.9" y1="1892.9" x2="91.7" y2="1892.9" stroke="#000" stroke-width="1.8"/>
<text transform="translate(81.9 1900.4) scale(1 1.04)" font-size="22" text-anchor="end">250</text>
<line x1="85.9" y1="1997.1" x2="91.7" y2="1997.1" stroke="#000" stroke-width="1.8"/>
<text transform="translate(81.9 2004.6) scale(1 1.04)" font-size="22" text-anchor="end">0</text>
<line x1="169.6" y1="2014.5" x2="169.6" y2="2020.3" stroke="#000" stroke-width="1.8"/>
<text transform="translate(169.6 2040.4) scale(1 1.04)" font-size="21.9" text-anchor="middle">Low−risk</text>
<line x1="300.3" y1="2014.5" x2="300.3" y2="2020.3" stroke="#000" stroke-width="1.8"/>
<text transform="translate(300.3 2040.4) scale(1 1.04)" font-size="21.9" text-anchor="middle">High−risk</text>
<text transform="translate(23.2 1796) rotate(-90)" font-size="21.7" text-anchor="middle">Somatic mutation count</text>
<line x1="574.2" y1="1616.2" x2="574.2" y2="1758.5" stroke="#0000FF" stroke-width="1.8"/>
<line x1="574.2" y1="1863.5" x2="574.2" y2="1994.6" stroke="#0000FF" stroke-width="1.8"/>
<rect x="524.7" y="1758.5" width="99.1" height="105" fill="none" stroke="#0000FF" stroke-width="1.8"/>
<line x1="523.8" y1="1799.3" x2="624.7" y2="1799.3" stroke="#0000FF" stroke-width="3.8"/>
<line x1="715.9" y1="1636.8" x2="715.9" y2="1741.9" stroke="#FF0000" stroke-width="1.8"/>
<line x1="715.9" y1="1819.1" x2="715.9" y2="1923.2" stroke="#FF0000" stroke-width="1.8"/>
<rect x="666.2" y="1741.9" width="99.4" height="77.2" fill="none" stroke="#FF0000" stroke-width="1.8"/>
<line x1="665.3" y1="1787.8" x2="766.5" y2="1787.8" stroke="#FF0000" stroke-width="3.8"/>
<g fill="#0000FF">
<circle cx="554.1" cy="1616.2" r="4.4"/><circle cx="570.9" cy="1616.2" r="4.4"/><circle cx="591.6" cy="1661" r="4.4"/><circle cx="568.4" cy="1676.5" r="4.4"/><circle cx="589.1" cy="1676" r="4.4"/><circle cx="567.6" cy="1693.4" r="4.4"/><circle cx="574.3" cy="1700" r="4.4"/><circle cx="575.4" cy="1708.4" r="4.4"/><circle cx="601.5" cy="1713.2" r="4.4"/><circle cx="581.6" cy="1724.3" r="4.4"/><circle cx="581.3" cy="1728.2" r="4.4"/><circle cx="590.4" cy="1730.1" r="4.4"/><circle cx="551.5" cy="1730.6" r="4.4"/><circle cx="554.4" cy="1730.6" r="4.4"/><circle cx="557.4" cy="1738.5" r="4.4"/><circle cx="555.1" cy="1741.5" r="4.4"/><circle cx="569.4" cy="1742.2" r="4.4"/><circle cx="551.5" cy="1748.8" r="4.4"/><circle cx="545.6" cy="1751.2" r="4.4"/><circle cx="574.3" cy="1757.4" r="4.4"/><circle cx="558.5" cy="1760.3" r="4.4"/><circle cx="570.6" cy="1764.4" r="4.4"/><circle cx="559.6" cy="1770.3" r="4.4"/><circle cx="590.4" cy="1770.6" r="4.4"/><circle cx="588.7" cy="1777.2" r="4.4"/><circle cx="555.1" cy="1779.7" r="4.4"/><circle cx="564.7" cy="1781.2" r="4.4"/><circle cx="571.3" cy="1779.7" r="4.4"/><circle cx="579.4" cy="1779.7" r="4.4"/><circle cx="569.1" cy="1783.8" r="4.4"/><circle cx="575" cy="1783.8" r="4.4"/><circle cx="555.6" cy="1787.5" r="4.4"/><circle cx="572.1" cy="1789.7" r="4.4"/><circle cx="562.2" cy="1794.9" r="4.4"/><circle cx="572.1" cy="1795.6" r="4.4"/><circle cx="587.5" cy="1797.1" r="4.4"/><circle cx="577.9" cy="1802.2" r="4.4"/><circle cx="597.1" cy="1801.5" r="4.4"/><circle cx="553.7" cy="1810" r="4.4"/><circle cx="553.7" cy="1813.5" r="4.4"/><circle cx="558.1" cy="1816.5" r="4.4"/><circle cx="548.5" cy="1821.6" r="4.4"/><circle cx="557.1" cy="1822.8" r="4.4"/><circle cx="576.9" cy="1825" r="4.4"/><circle cx="548.5" cy="1830.6" r="4.4"/><circle cx="571.6" cy="1830.9" r="4.4"/><circle cx="577.9" cy="1831.6" r="4.4"/><circle cx="581.6" cy="1835" r="4.4"/><circle cx="565.4" cy="1836.8" r="4.4"/><circle cx="575" cy="1841.9" r="4.4"/><circle cx="594.6" cy="1844.4" r="4.4"/><circle cx="561.5" cy="1845.3" r="4.4"/><circle cx="555.6" cy="1848.8" r="4.4"/><circle cx="584.6" cy="1850.7" r="4.4"/><circle cx="584.3" cy="1856.9" r="4.4"/><circle cx="556.3" cy="1861.8" r="4.4"/><circle cx="585.3" cy="1864.7" r="4.4"/><circle cx="575.7" cy="1872.1" r="4.4"/><circle cx="579.9" cy="1879.1" r="4.4"/><circle cx="551.8" cy="1879.1" r="4.4"/><circle cx="547.1" cy="1880.6" r="4.4"/><circle cx="601.9" cy="1885.7" r="4.4"/><circle cx="546.8" cy="1892.6" r="4.4"/><circle cx="552.2" cy="1892.9" r="4.4"/><circle cx="562.5" cy="1895.9" r="4.4"/><circle cx="587.8" cy="1895.9" r="4.4"/><circle cx="593.4" cy="1898.5" r="4.4"/><circle cx="599.3" cy="1900.7" r="4.4"/><circle cx="600.4" cy="1909.1" r="4.4"/><circle cx="562.1" cy="1914" r="4.4"/><circle cx="592.9" cy="1919.1" r="4.4"/><circle cx="554.4" cy="1925.7" r="4.4"/><circle cx="596" cy="1935.6" r="4.4"/><circle cx="592.9" cy="1950" r="4.4"/><circle cx="572.1" cy="1970.6" r="4.4"/><circle cx="567.4" cy="1994.9" r="4.4"/>
</g>
<g fill="#FF0000">
<circle cx="712.2" cy="1616.2" r="4.4"/><circle cx="724.6" cy="1616.2" r="4.4"/><circle cx="711.5" cy="1636" r="4.4"/><circle cx="729.1" cy="1647.5" r="4.4"/><circle cx="742.9" cy="1650.7" r="4.4"/><circle cx="717.4" cy="1653.7" r="4.4"/><circle cx="708.8" cy="1662.8" r="4.4"/><circle cx="711" cy="1700" r="4.4"/><circle cx="710.3" cy="1703.7" r="4.4"/><circle cx="726.2" cy="1728.7" r="4.4"/><circle cx="689.7" cy="1732.1" r="4.4"/><circle cx="716.9" cy="1735.3" r="4.4"/><circle cx="704.4" cy="1739" r="4.4"/><circle cx="731.6" cy="1749.7" r="4.4"/><circle cx="689.7" cy="1754" r="4.4"/><circle cx="730.9" cy="1757.4" r="4.4"/><circle cx="704.7" cy="1759.1" r="4.4"/><circle cx="731.6" cy="1762.5" r="4.4"/><circle cx="718.8" cy="1771.3" r="4.4"/><circle cx="725" cy="1774.3" r="4.4"/><circle cx="708.8" cy="1777.2" r="4.4"/><circle cx="737.1" cy="1776.5" r="4.4"/><circle cx="712.5" cy="1783.8" r="4.4"/><circle cx="722.8" cy="1785.3" r="4.4"/><circle cx="730.9" cy="1784.6" r="4.4"/><circle cx="705.1" cy="1789" r="4.4"/><circle cx="723.5" cy="1792.6" r="4.4"/><circle cx="737.8" cy="1794.1" r="4.4"/><circle cx="711.8" cy="1796.3" r="4.4"/><circle cx="711" cy="1800" r="4.4"/><circle cx="740.4" cy="1801.8" r="4.4"/><circle cx="733.1" cy="1804.1" r="4.4"/><circle cx="735.3" cy="1808.8" r="4.4"/><circle cx="707.4" cy="1813.5" r="4.4"/><circle cx="738.2" cy="1814.7" r="4.4"/><circle cx="743.8" cy="1820.6" r="4.4"/><circle cx="707.4" cy="1824" r="4.4"/><circle cx="721.8" cy="1825" r="4.4"/><circle cx="715.4" cy="1833.1" r="4.4"/><circle cx="690.4" cy="1837.1" r="4.4"/><circle cx="703.4" cy="1836.3" r="4.4"/><circle cx="687.2" cy="1848.5" r="4.4"/><circle cx="696.3" cy="1848.8" r="4.4"/><circle cx="730.1" cy="1854" r="4.4"/><circle cx="701" cy="1861.8" r="4.4"/><circle cx="711.5" cy="1862.5" r="4.4"/><circle cx="736" cy="1894.9" r="4.4"/><circle cx="706.6" cy="1923.2" r="4.4"/>
</g>
<path d="M574 1608.6V1597.3H715.8V1608.6" fill="none" stroke="#1a1a1a" stroke-width="1.4"/>
<text transform="translate(644.9 1592.9) scale(1 1.04)" font-size="19.8" text-anchor="middle">0.04</text>
<line x1="489.2" y1="1577.2" x2="489.2" y2="2015.4" stroke="#000" stroke-width="1.8"/>
<line x1="488.3" y1="2014.5" x2="800.2" y2="2014.5" stroke="#000" stroke-width="1.8"/>
<line x1="483.4" y1="1586.2" x2="489.2" y2="1586.2" stroke="#000" stroke-width="1.8"/>
<text transform="translate(479.4 1593.7) scale(1 1.04)" font-size="22" text-anchor="end">15</text>
<line x1="483.4" y1="1732.2" x2="489.2" y2="1732.2" stroke="#000" stroke-width="1.8"/>
<text transform="translate(479.4 1739.7) scale(1 1.04)" font-size="22" text-anchor="end">10</text>
<line x1="483.4" y1="1878.2" x2="489.2" y2="1878.2" stroke="#000" stroke-width="1.8"/>
<text transform="translate(479.4 1885.7) scale(1 1.04)" font-size="22" text-anchor="end">5</text>
<line x1="574" y1="2014.5" x2="574" y2="2020.3" stroke="#000" stroke-width="1.8"/>
<text transform="translate(574 2040.4) scale(1 1.04)" font-size="21.9" text-anchor="middle">Low−risk</text>
<line x1="715.8" y1="2014.5" x2="715.8" y2="2020.3" stroke="#000" stroke-width="1.8"/>
<text transform="translate(715.8 2040.4) scale(1 1.04)" font-size="21.9" text-anchor="middle">High−risk</text>
<text transform="translate(444.4 1796) rotate(-90)" font-size="21.7" text-anchor="middle">KRAS expression</text>
<line x1="978.9" y1="1697.1" x2="978.9" y2="1812.1" stroke="#0000FF" stroke-width="1.8"/>
<line x1="978.9" y1="1907.1" x2="978.9" y2="1992.6" stroke="#0000FF" stroke-width="1.8"/>
<rect x="930" y="1812.1" width="97.8" height="95" fill="none" stroke="#0000FF" stroke-width="1.8"/>
<line x1="929.1" y1="1851.8" x2="1028.7" y2="1851.8" stroke="#0000FF" stroke-width="3.8"/>
<line x1="1117.8" y1="1632.6" x2="1117.8" y2="1806.2" stroke="#FF0000" stroke-width="1.8"/>
<line x1="1117.8" y1="1922.4" x2="1117.8" y2="1994.1" stroke="#FF0000" stroke-width="1.8"/>
<rect x="1069" y="1806.2" width="97.5" height="116.2" fill="none" stroke="#FF0000" stroke-width="1.8"/>
<line x1="1068.1" y1="1864.7" x2="1167.4" y2="1864.7" stroke="#FF0000" stroke-width="3.8"/>
<g fill="#0000FF">
<circle cx="956.5" cy="1616.2" r="4.4"/><circle cx="974.4" cy="1616.2" r="4.4"/><circle cx="989.6" cy="1616.2" r="4.4"/><circle cx="1000" cy="1618.4" r="4.4"/><circle cx="997.4" cy="1697.1" r="4.4"/><circle cx="957.4" cy="1721.3" r="4.4"/><circle cx="977.1" cy="1724.6" r="4.4"/><circle cx="998.4" cy="1753.7" r="4.4"/><circle cx="998.8" cy="1774.6" r="4.4"/><circle cx="966.5" cy="1779.9" r="4.4"/><circle cx="969.3" cy="1785.6" r="4.4"/><circle cx="974.9" cy="1787.1" r="4.4"/><circle cx="956.9" cy="1787.5" r="4.4"/><circle cx="970.4" cy="1797.1" r="4.4"/><circle cx="959.1" cy="1800" r="4.4"/><circle cx="1006.5" cy="1804.1" r="4.4"/><circle cx="1002.1" cy="1805.9" r="4.4"/><circle cx="981.2" cy="1812.1" r="4.4"/><circle cx="1001.8" cy="1812.9" r="4.4"/><circle cx="989.6" cy="1816.2" r="4.4"/><circle cx="986.3" cy="1819.1" r="4.4"/><circle cx="979" cy="1826.8" r="4.4"/><circle cx="951.6" cy="1831.2" r="4.4"/><circle cx="972.4" cy="1831.9" r="4.4"/><circle cx="979.3" cy="1831.9" r="4.4"/><circle cx="1003.2" cy="1830.1" r="4.4"/><circle cx="1005" cy="1831.2" r="4.4"/><circle cx="966.8" cy="1837.2" r="4.4"/><circle cx="954.3" cy="1840.1" r="4.4"/><circle cx="959.4" cy="1841.5" r="4.4"/><circle cx="992.5" cy="1844.9" r="4.4"/><circle cx="961.3" cy="1847.8" r="4.4"/><circle cx="964.6" cy="1850.7" r="4.4"/><circle cx="969" cy="1851.5" r="4.4"/><circle cx="955.4" cy="1854.7" r="4.4"/><circle cx="967.2" cy="1854.7" r="4.4"/><circle cx="985.6" cy="1857.1" r="4.4"/><circle cx="975.3" cy="1858.8" r="4.4"/><circle cx="976.6" cy="1861" r="4.4"/><circle cx="972.4" cy="1865.4" r="4.4"/><circle cx="982.2" cy="1867.6" r="4.4"/><circle cx="971.9" cy="1868.4" r="4.4"/><circle cx="997.6" cy="1872.1" r="4.4"/><circle cx="973.4" cy="1876.5" r="4.4"/><circle cx="967.8" cy="1881.2" r="4.4"/><circle cx="1005.7" cy="1882.1" r="4.4"/><circle cx="953.5" cy="1886.3" r="4.4"/><circle cx="981.8" cy="1885.6" r="4.4"/><circle cx="974.9" cy="1889" r="4.4"/><circle cx="961.9" cy="1892.9" r="4.4"/><circle cx="995" cy="1907.1" r="4.4"/><circle cx="971.2" cy="1911.8" r="4.4"/><circle cx="980.3" cy="1910.3" r="4.4"/><circle cx="1005.7" cy="1911.8" r="4.4"/><circle cx="977.8" cy="1919.4" r="4.4"/><circle cx="988.5" cy="1919.9" r="4.4"/><circle cx="986.6" cy="1925" r="4.4"/><circle cx="968.2" cy="1927.9" r="4.4"/><circle cx="976" cy="1933.4" r="4.4"/><circle cx="987.4" cy="1935.3" r="4.4"/><circle cx="960.4" cy="1940" r="4.4"/><circle cx="986.6" cy="1942.6" r="4.4"/><circle cx="979.7" cy="1945.3" r="4.4"/><circle cx="983.2" cy="1966.2" r="4.4"/><circle cx="975.3" cy="1970.9" r="4.4"/><circle cx="988.8" cy="1973.1" r="4.4"/><circle cx="967.5" cy="1977.2" r="4.4"/><circle cx="954" cy="1993.1" r="4.4"/>
</g>
<g fill="#FF0000">
<circle cx="1139.3" cy="1616.2" r="4.4"/><circle cx="1128.1" cy="1632.4" r="4.4"/><circle cx="1098.7" cy="1703.2" r="4.4"/><circle cx="1113.8" cy="1708.8" r="4.4"/><circle cx="1115.6" cy="1726.9" r="4.4"/><circle cx="1123.8" cy="1732.8" r="4.4"/><circle cx="1097.9" cy="1735.6" r="4.4"/><circle cx="1113.5" cy="1737.5" r="4.4"/><circle cx="1119.4" cy="1738.7" r="4.4"/><circle cx="1132.2" cy="1741.2" r="4.4"/><circle cx="1089.9" cy="1762.9" r="4.4"/><circle cx="1101.6" cy="1767.4" r="4.4"/><circle cx="1132.9" cy="1783.8" r="4.4"/><circle cx="1128.8" cy="1785" r="4.4"/><circle cx="1110.1" cy="1799.7" r="4.4"/><circle cx="1114.1" cy="1799.7" r="4.4"/><circle cx="1102.8" cy="1805.6" r="4.4"/><circle cx="1130.7" cy="1804.7" r="4.4"/><circle cx="1100.1" cy="1818.8" r="4.4"/><circle cx="1091" cy="1821.8" r="4.4"/><circle cx="1117.8" cy="1823.8" r="4.4"/><circle cx="1113.4" cy="1829.9" r="4.4"/><circle cx="1114.6" cy="1834.1" r="4.4"/><circle cx="1136.6" cy="1837.5" r="4.4"/><circle cx="1119" cy="1842.9" r="4.4"/><circle cx="1138.8" cy="1846.8" r="4.4"/><circle cx="1131.5" cy="1848.5" r="4.4"/><circle cx="1117.8" cy="1856.2" r="4.4"/><circle cx="1098.4" cy="1859.3" r="4.4"/><circle cx="1111.3" cy="1860" r="4.4"/><circle cx="1096.2" cy="1862.5" r="4.4"/><circle cx="1127.5" cy="1863.7" r="4.4"/><circle cx="1091.3" cy="1866.5" r="4.4"/><circle cx="1117.9" cy="1876.9" r="4.4"/><circle cx="1139.9" cy="1881.6" r="4.4"/><circle cx="1113.5" cy="1883.5" r="4.4"/><circle cx="1116.8" cy="1884.6" r="4.4"/><circle cx="1132.5" cy="1889.7" r="4.4"/><circle cx="1134" cy="1900.4" r="4.4"/><circle cx="1142.1" cy="1900.4" r="4.4"/><circle cx="1112.8" cy="1911.5" r="4.4"/><circle cx="1132.9" cy="1915.1" r="4.4"/><circle cx="1092.8" cy="1917.2" r="4.4"/><circle cx="1134.1" cy="1917.2" r="4.4"/><circle cx="1109.4" cy="1919.9" r="4.4"/><circle cx="1125.1" cy="1920.6" r="4.4"/><circle cx="1114.6" cy="1922.8" r="4.4"/><circle cx="1128.5" cy="1919.9" r="4.4"/><circle cx="1120.4" cy="1927.2" r="4.4"/><circle cx="1145" cy="1932.4" r="4.4"/><circle cx="1105.4" cy="1934.1" r="4.4"/><circle cx="1109" cy="1936" r="4.4"/><circle cx="1092.5" cy="1937.5" r="4.4"/><circle cx="1132.6" cy="1941.5" r="4.4"/><circle cx="1122.6" cy="1946.8" r="4.4"/><circle cx="1099.1" cy="1951.2" r="4.4"/><circle cx="1135.1" cy="1951.9" r="4.4"/><circle cx="1132.2" cy="1953.4" r="4.4"/><circle cx="1114.6" cy="1954.4" r="4.4"/><circle cx="1102.5" cy="1959.9" r="4.4"/><circle cx="1119.4" cy="1965" r="4.4"/><circle cx="1140.6" cy="1975.4" r="4.4"/><circle cx="1123.4" cy="1995.1" r="4.4"/>
</g>
<path d="M978.9 1608.6V1597.3H1117.8V1608.6" fill="none" stroke="#1a1a1a" stroke-width="1.4"/>
<text transform="translate(1048.35 1592.9) scale(1 1.04)" font-size="19.8" text-anchor="middle">0.32</text>
<line x1="895.6" y1="1577.2" x2="895.6" y2="2015.4" stroke="#000" stroke-width="1.8"/>
<line x1="894.7" y1="2014.5" x2="1200.5" y2="2014.5" stroke="#000" stroke-width="1.8"/>
<line x1="889.8" y1="1674.5" x2="895.6" y2="1674.5" stroke="#000" stroke-width="1.8"/>
<text transform="translate(885.8 1682) scale(1 1.04)" font-size="22" text-anchor="end">7.5</text>
<line x1="889.8" y1="1796.8" x2="895.6" y2="1796.8" stroke="#000" stroke-width="1.8"/>
<text transform="translate(885.8 1804.3) scale(1 1.04)" font-size="22" text-anchor="end">5.0</text>
<line x1="889.8" y1="1919.1" x2="895.6" y2="1919.1" stroke="#000" stroke-width="1.8"/>
<text transform="translate(885.8 1926.6) scale(1 1.04)" font-size="22" text-anchor="end">2.5</text>
<line x1="978.9" y1="2014.5" x2="978.9" y2="2020.3" stroke="#000" stroke-width="1.8"/>
<text transform="translate(978.9 2040.4) scale(1 1.04)" font-size="21.9" text-anchor="middle">Low−risk</text>
<line x1="1117.8" y1="2014.5" x2="1117.8" y2="2020.3" stroke="#000" stroke-width="1.8"/>
<text transform="translate(1117.8 2040.4) scale(1 1.04)" font-size="21.9" text-anchor="middle">High−risk</text>
<text transform="translate(845.2 1796) rotate(-90)" font-size="21.7" text-anchor="middle">PIK3CA expression</text>
<line x1="1373.9" y1="1616.2" x2="1373.9" y2="1763.7" stroke="#0000FF" stroke-width="1.8"/>
<line x1="1373.9" y1="1898.8" x2="1373.9" y2="1994.6" stroke="#0000FF" stroke-width="1.8"/>
<rect x="1324.3" y="1763.7" width="99.2" height="135.1" fill="none" stroke="#0000FF" stroke-width="1.8"/>
<line x1="1323.4" y1="1825" x2="1424.4" y2="1825" stroke="#0000FF" stroke-width="3.8"/>
<line x1="1515.4" y1="1616.9" x2="1515.4" y2="1776" stroke="#FF0000" stroke-width="1.8"/>
<line x1="1515.4" y1="1900.7" x2="1515.4" y2="1991.2" stroke="#FF0000" stroke-width="1.8"/>
<rect x="1465.7" y="1776" width="99.4" height="124.7" fill="none" stroke="#FF0000" stroke-width="1.8"/>
<line x1="1464.8" y1="1833.4" x2="1566" y2="1833.4" stroke="#FF0000" stroke-width="3.8"/>
<g fill="#0000FF">
<circle cx="1369.9" cy="1616.2" r="4.4"/><circle cx="1372.1" cy="1616.2" r="4.4"/><circle cx="1350.9" cy="1669.4" r="4.4"/><circle cx="1351.5" cy="1679.4" r="4.4"/><circle cx="1364.3" cy="1677.5" r="4.4"/><circle cx="1369.9" cy="1686.5" r="4.4"/><circle cx="1376.8" cy="1693.4" r="4.4"/><circle cx="1354" cy="1697.4" r="4.4"/><circle cx="1395.1" cy="1714" r="4.4"/><circle cx="1369.9" cy="1718.1" r="4.4"/><circle cx="1402.2" cy="1729" r="4.4"/><circle cx="1366.2" cy="1751.2" r="4.4"/><circle cx="1347.8" cy="1755.6" r="4.4"/><circle cx="1384.1" cy="1754" r="4.4"/><circle cx="1392.4" cy="1755.9" r="4.4"/><circle cx="1396.8" cy="1756.6" r="4.4"/><circle cx="1350" cy="1763.7" r="4.4"/><circle cx="1361" cy="1774.6" r="4.4"/><circle cx="1369.1" cy="1780.4" r="4.4"/><circle cx="1366.9" cy="1785" r="4.4"/><circle cx="1401" cy="1791.2" r="4.4"/><circle cx="1366.6" cy="1795.9" r="4.4"/><circle cx="1353.7" cy="1799.6" r="4.4"/><circle cx="1384.6" cy="1797.8" r="4.4"/><circle cx="1380.6" cy="1800.7" r="4.4"/><circle cx="1390" cy="1800.3" r="4.4"/><circle cx="1362.9" cy="1807.1" r="4.4"/><circle cx="1397.8" cy="1807.1" r="4.4"/><circle cx="1373.5" cy="1810" r="4.4"/><circle cx="1359.6" cy="1812.1" r="4.4"/><circle cx="1351.5" cy="1815.4" r="4.4"/><circle cx="1355.6" cy="1820.3" r="4.4"/><circle cx="1376" cy="1824.3" r="4.4"/><circle cx="1387.5" cy="1823.8" r="4.4"/><circle cx="1374.7" cy="1828.7" r="4.4"/><circle cx="1398.5" cy="1827.9" r="4.4"/><circle cx="1363.7" cy="1830.4" r="4.4"/><circle cx="1345.6" cy="1831.3" r="4.4"/><circle cx="1383.4" cy="1834.9" r="4.4"/><circle cx="1368.4" cy="1850.7" r="4.4"/><circle cx="1362.2" cy="1852.6" r="4.4"/><circle cx="1348.5" cy="1853.7" r="4.4"/><circle cx="1355.9" cy="1859.3" r="4.4"/><circle cx="1400.4" cy="1858.8" r="4.4"/><circle cx="1394.1" cy="1862.1" r="4.4"/><circle cx="1381.6" cy="1867.9" r="4.4"/><circle cx="1376.5" cy="1869.1" r="4.4"/><circle cx="1372.1" cy="1870.3" r="4.4"/><circle cx="1375" cy="1880.1" r="4.4"/><circle cx="1362.1" cy="1887.2" r="4.4"/><circle cx="1393.7" cy="1898.8" r="4.4"/><circle cx="1371.6" cy="1900.7" r="4.4"/><circle cx="1366.9" cy="1903.7" r="4.4"/><circle cx="1373.5" cy="1908.4" r="4.4"/><circle cx="1382.4" cy="1909.3" r="4.4"/><circle cx="1401" cy="1910" r="4.4"/><circle cx="1364.7" cy="1925" r="4.4"/><circle cx="1371" cy="1929" r="4.4"/><circle cx="1354.9" cy="1930.6" r="4.4"/><circle cx="1381.9" cy="1944.1" r="4.4"/><circle cx="1348.2" cy="1947.8" r="4.4"/><circle cx="1361.8" cy="1957.8" r="4.4"/><circle cx="1370.1" cy="1962.2" r="4.4"/><circle cx="1377.9" cy="1966.9" r="4.4"/><circle cx="1356.3" cy="1969.1" r="4.4"/><circle cx="1381.6" cy="1987.8" r="4.4"/><circle cx="1383.8" cy="1995.1" r="4.4"/>
</g>
<g fill="#FF0000">
<circle cx="1495.3" cy="1616.2" r="4.4"/><circle cx="1529.9" cy="1616.2" r="4.4"/><circle cx="1543.2" cy="1631.6" r="4.4"/><circle cx="1499.7" cy="1640.1" r="4.4"/><circle cx="1507.1" cy="1670.9" r="4.4"/><circle cx="1511.8" cy="1700" r="4.4"/><circle cx="1526" cy="1705.1" r="4.4"/><circle cx="1498.8" cy="1710" r="4.4"/><circle cx="1511" cy="1718.8" r="4.4"/><circle cx="1518.4" cy="1722.8" r="4.4"/><circle cx="1507.4" cy="1736" r="4.4"/><circle cx="1537.2" cy="1739.4" r="4.4"/><circle cx="1513.2" cy="1748.5" r="4.4"/><circle cx="1534.6" cy="1753.4" r="4.4"/><circle cx="1496" cy="1758.5" r="4.4"/><circle cx="1515.4" cy="1764.7" r="4.4"/><circle cx="1511.3" cy="1771.6" r="4.4"/><circle cx="1511.8" cy="1777.5" r="4.4"/><circle cx="1528.7" cy="1777.9" r="4.4"/><circle cx="1532.4" cy="1781.6" r="4.4"/><circle cx="1487.1" cy="1785" r="4.4"/><circle cx="1511.8" cy="1784.3" r="4.4"/><circle cx="1495.6" cy="1791.9" r="4.4"/><circle cx="1498.8" cy="1807.4" r="4.4"/><circle cx="1530.1" cy="1808.1" r="4.4"/><circle cx="1535.3" cy="1808.8" r="4.4"/><circle cx="1502.9" cy="1815.1" r="4.4"/><circle cx="1488.2" cy="1825.3" r="4.4"/><circle cx="1497.4" cy="1824.6" r="4.4"/><circle cx="1511" cy="1826.8" r="4.4"/><circle cx="1521.6" cy="1827.2" r="4.4"/><circle cx="1527.2" cy="1830.6" r="4.4"/><circle cx="1517.6" cy="1833.5" r="4.4"/><circle cx="1510" cy="1834.6" r="4.4"/><circle cx="1537.8" cy="1834.1" r="4.4"/><circle cx="1522.1" cy="1840.1" r="4.4"/><circle cx="1537.2" cy="1842.4" r="4.4"/><circle cx="1522.8" cy="1847.8" r="4.4"/><circle cx="1517.2" cy="1851.8" r="4.4"/><circle cx="1530.4" cy="1851" r="4.4"/><circle cx="1505.9" cy="1860" r="4.4"/><circle cx="1512.2" cy="1864.3" r="4.4"/><circle cx="1532.1" cy="1865.1" r="4.4"/><circle cx="1525.3" cy="1869.1" r="4.4"/><circle cx="1500.7" cy="1875.3" r="4.4"/><circle cx="1516.6" cy="1876.2" r="4.4"/><circle cx="1530.6" cy="1877.5" r="4.4"/><circle cx="1512.2" cy="1886.5" r="4.4"/><circle cx="1493.1" cy="1888.7" r="4.4"/><circle cx="1528.7" cy="1900" r="4.4"/><circle cx="1515.4" cy="1902.9" r="4.4"/><circle cx="1489.7" cy="1912.5" r="4.4"/><circle cx="1488.2" cy="1914.4" r="4.4"/><circle cx="1540.1" cy="1912.5" r="4.4"/><circle cx="1530.9" cy="1916.9" r="4.4"/><circle cx="1520.1" cy="1928.2" r="4.4"/><circle cx="1532.8" cy="1930.9" r="4.4"/><circle cx="1508.8" cy="1949.7" r="4.4"/><circle cx="1515" cy="1950" r="4.4"/><circle cx="1520.6" cy="1949.7" r="4.4"/><circle cx="1530.9" cy="1951.5" r="4.4"/><circle cx="1496.3" cy="1955.9" r="4.4"/><circle cx="1513.7" cy="1963.2" r="4.4"/><circle cx="1538.5" cy="1965.7" r="4.4"/><circle cx="1489.7" cy="1971.8" r="4.4"/><circle cx="1521" cy="1991.6" r="4.4"/>
</g>
<path d="M1373.9 1608.6V1597.3H1515.6V1608.6" fill="none" stroke="#1a1a1a" stroke-width="1.4"/>
<text transform="translate(1444.75 1592.9) scale(1 1.04)" font-size="19.8" text-anchor="middle">0.72</text>
<line x1="1289.2" y1="1577.2" x2="1289.2" y2="2015.4" stroke="#000" stroke-width="1.8"/>
<line x1="1288.3" y1="2014.5" x2="1600.2" y2="2014.5" stroke="#000" stroke-width="1.8"/>
<line x1="1283.4" y1="1723.2" x2="1289.2" y2="1723.2" stroke="#000" stroke-width="1.8"/>
<text transform="translate(1279.4 1730.7) scale(1 1.04)" font-size="22" text-anchor="end">20</text>
<line x1="1283.4" y1="1882.5" x2="1289.2" y2="1882.5" stroke="#000" stroke-width="1.8"/>
<text transform="translate(1279.4 1890) scale(1 1.04)" font-size="22" text-anchor="end">10</text>
<line x1="1373.9" y1="2014.5" x2="1373.9" y2="2020.3" stroke="#000" stroke-width="1.8"/>
<text transform="translate(1373.9 2040.4) scale(1 1.04)" font-size="21.9" text-anchor="middle">Low−risk</text>
<line x1="1515.6" y1="2014.5" x2="1515.6" y2="2020.3" stroke="#000" stroke-width="1.8"/>
<text transform="translate(1515.6 2040.4) scale(1 1.04)" font-size="21.9" text-anchor="middle">High−risk</text>
<text transform="translate(1244.4 1796) rotate(-90)" font-size="21.7" text-anchor="middle">ARID1A expression</text>
<line x1="1773.5" y1="1616.2" x2="1773.5" y2="1782.1" stroke="#0000FF" stroke-width="1.8"/>
<line x1="1773.5" y1="1922.1" x2="1773.5" y2="1994.6" stroke="#0000FF" stroke-width="1.8"/>
<rect x="1723.5" y="1782.1" width="100" height="140" fill="none" stroke="#0000FF" stroke-width="1.8"/>
<line x1="1722.6" y1="1882.6" x2="1824.4" y2="1882.6" stroke="#0000FF" stroke-width="3.8"/>
<line x1="1915.6" y1="1645.3" x2="1915.6" y2="1789.3" stroke="#FF0000" stroke-width="1.8"/>
<line x1="1915.6" y1="1892.9" x2="1915.6" y2="1979.7" stroke="#FF0000" stroke-width="1.8"/>
<rect x="1865.7" y="1789.3" width="99.7" height="103.6" fill="none" stroke="#FF0000" stroke-width="1.8"/>
<line x1="1864.8" y1="1858.5" x2="1966.3" y2="1858.5" stroke="#FF0000" stroke-width="3.8"/>
<g fill="#0000FF">
<circle cx="1774" cy="1616.2" r="4.4"/><circle cx="1750.7" cy="1654.9" r="4.4"/><circle cx="1762.1" cy="1695.6" r="4.4"/><circle cx="1769.9" cy="1698.2" r="4.4"/><circle cx="1754.1" cy="1710" r="4.4"/><circle cx="1765.9" cy="1729.7" r="4.4"/><circle cx="1777.9" cy="1738.5" r="4.4"/><circle cx="1771.3" cy="1748.2" r="4.4"/><circle cx="1781.6" cy="1753.7" r="4.4"/><circle cx="1761.8" cy="1760.6" r="4.4"/><circle cx="1784.1" cy="1762.8" r="4.4"/><circle cx="1789" cy="1770.6" r="4.4"/><circle cx="1754.4" cy="1773.8" r="4.4"/><circle cx="1772.4" cy="1779.7" r="4.4"/><circle cx="1759.3" cy="1782.4" r="4.4"/><circle cx="1768.4" cy="1783.8" r="4.4"/><circle cx="1778.4" cy="1781.6" r="4.4"/><circle cx="1795.3" cy="1781.2" r="4.4"/><circle cx="1795.6" cy="1784.1" r="4.4"/><circle cx="1751.5" cy="1799.7" r="4.4"/><circle cx="1745.1" cy="1831.9" r="4.4"/><circle cx="1766.5" cy="1846.3" r="4.4"/><circle cx="1796.8" cy="1846.3" r="4.4"/><circle cx="1776.9" cy="1849.6" r="4.4"/><circle cx="1747.8" cy="1857.6" r="4.4"/><circle cx="1775.4" cy="1857.6" r="4.4"/><circle cx="1765.4" cy="1868.4" r="4.4"/><circle cx="1751.2" cy="1876.5" r="4.4"/><circle cx="1781.3" cy="1879.4" r="4.4"/><circle cx="1756.2" cy="1887.5" r="4.4"/><circle cx="1766.9" cy="1886.8" r="4.4"/><circle cx="1773.5" cy="1888.2" r="4.4"/><circle cx="1781.3" cy="1886.3" r="4.4"/><circle cx="1801.2" cy="1890.4" r="4.4"/><circle cx="1781.9" cy="1896.3" r="4.4"/><circle cx="1785.3" cy="1897.1" r="4.4"/><circle cx="1755.9" cy="1898.5" r="4.4"/><circle cx="1768.8" cy="1900.4" r="4.4"/><circle cx="1796.6" cy="1899.3" r="4.4"/><circle cx="1776.5" cy="1905.6" r="4.4"/><circle cx="1775" cy="1909.9" r="4.4"/><circle cx="1763.5" cy="1911.8" r="4.4"/><circle cx="1748.1" cy="1916.2" r="4.4"/><circle cx="1770.3" cy="1924" r="4.4"/><circle cx="1771.3" cy="1931.2" r="4.4"/><circle cx="1764.4" cy="1933.8" r="4.4"/><circle cx="1745.3" cy="1941.9" r="4.4"/><circle cx="1786.8" cy="1944.1" r="4.4"/><circle cx="1798.2" cy="1947.5" r="4.4"/><circle cx="1792.9" cy="1951.9" r="4.4"/><circle cx="1769.9" cy="1952.9" r="4.4"/><circle cx="1750" cy="1958.4" r="4.4"/><circle cx="1780.9" cy="1979.1" r="4.4"/><circle cx="1778.7" cy="1981.2" r="4.4"/><circle cx="1770.1" cy="1983.4" r="4.4"/><circle cx="1757.1" cy="1992.9" r="4.4"/><circle cx="1801.8" cy="1994.9" r="4.4"/>
</g>
<g fill="#FF0000">
<circle cx="1903.2" cy="1616.2" r="4.4"/><circle cx="1932.1" cy="1616.6" r="4.4"/><circle cx="1943.4" cy="1616.5" r="4.4"/><circle cx="1915.7" cy="1645.3" r="4.4"/><circle cx="1904" cy="1670.3" r="4.4"/><circle cx="1901" cy="1689.3" r="4.4"/><circle cx="1895.3" cy="1697.5" r="4.4"/><circle cx="1917.6" cy="1725.3" r="4.4"/><circle cx="1911" cy="1729" r="4.4"/><circle cx="1888.5" cy="1733.8" r="4.4"/><circle cx="1931.3" cy="1758.1" r="4.4"/><circle cx="1895.9" cy="1773.1" r="4.4"/><circle cx="1941.9" cy="1772.8" r="4.4"/><circle cx="1931.3" cy="1776.9" r="4.4"/><circle cx="1921.6" cy="1790.4" r="4.4"/><circle cx="1929" cy="1788.7" r="4.4"/><circle cx="1931.6" cy="1792.4" r="4.4"/><circle cx="1896.3" cy="1796.8" r="4.4"/><circle cx="1903.7" cy="1799" r="4.4"/><circle cx="1929.9" cy="1805.4" r="4.4"/><circle cx="1942.6" cy="1807.8" r="4.4"/><circle cx="1895.1" cy="1829.9" r="4.4"/><circle cx="1897.1" cy="1842.6" r="4.4"/><circle cx="1906.3" cy="1844.1" r="4.4"/><circle cx="1934.3" cy="1842.6" r="4.4"/><circle cx="1897.1" cy="1846.8" r="4.4"/><circle cx="1940.7" cy="1848.1" r="4.4"/><circle cx="1922.5" cy="1851.5" r="4.4"/><circle cx="1926.9" cy="1855.6" r="4.4"/><circle cx="1905.9" cy="1859.3" r="4.4"/><circle cx="1937.9" cy="1858.1" r="4.4"/><circle cx="1893.1" cy="1864.7" r="4.4"/><circle cx="1911.5" cy="1867.9" r="4.4"/><circle cx="1925.4" cy="1867.2" r="4.4"/><circle cx="1936" cy="1867.6" r="4.4"/><circle cx="1895.3" cy="1871.3" r="4.4"/><circle cx="1915.9" cy="1875" r="4.4"/><circle cx="1890" cy="1880.4" r="4.4"/><circle cx="1917.6" cy="1881.6" r="4.4"/><circle cx="1936" cy="1880.6" r="4.4"/><circle cx="1918.4" cy="1886.8" r="4.4"/><circle cx="1912.5" cy="1889" r="4.4"/><circle cx="1911" cy="1894.1" r="4.4"/><circle cx="1929" cy="1900" r="4.4"/><circle cx="1902.9" cy="1901.8" r="4.4"/><circle cx="1888.5" cy="1904" r="4.4"/><circle cx="1922.4" cy="1904.7" r="4.4"/><circle cx="1925" cy="1915.4" r="4.4"/><circle cx="1913.7" cy="1919.9" r="4.4"/><circle cx="1925.7" cy="1919.9" r="4.4"/><circle cx="1931.2" cy="1923.2" r="4.4"/><circle cx="1910.3" cy="1930.9" r="4.4"/><circle cx="1934.6" cy="1942.4" r="4.4"/><circle cx="1908.8" cy="1954.4" r="4.4"/><circle cx="1912.1" cy="1959.6" r="4.4"/><circle cx="1908.8" cy="1968.7" r="4.4"/><circle cx="1939.4" cy="1980.1" r="4.4"/>
</g>
<path d="M1773.5 1608.6V1597.3H1915.5V1608.6" fill="none" stroke="#1a1a1a" stroke-width="1.4"/>
<text transform="translate(1844.5 1592.9) scale(1 1.04)" font-size="19.8" text-anchor="middle">0.16</text>
<line x1="1688.3" y1="1577.2" x2="1688.3" y2="2015.4" stroke="#000" stroke-width="1.8"/>
<line x1="1687.4" y1="2014.5" x2="2000.6" y2="2014.5" stroke="#000" stroke-width="1.8"/>
<line x1="1682.5" y1="1675.9" x2="1688.3" y2="1675.9" stroke="#000" stroke-width="1.8"/>
<text transform="translate(1678.5 1683.4) scale(1 1.04)" font-size="22" text-anchor="end">30</text>
<line x1="1682.5" y1="1812" x2="1688.3" y2="1812" stroke="#000" stroke-width="1.8"/>
<text transform="translate(1678.5 1819.5) scale(1 1.04)" font-size="22" text-anchor="end">20</text>
<line x1="1682.5" y1="1948.7" x2="1688.3" y2="1948.7" stroke="#000" stroke-width="1.8"/>
<text transform="translate(1678.5 1956.2) scale(1 1.04)" font-size="22" text-anchor="end">10</text>
<line x1="1773.5" y1="2014.5" x2="1773.5" y2="2020.3" stroke="#000" stroke-width="1.8"/>
<text transform="translate(1773.5 2040.4) scale(1 1.04)" font-size="21.9" text-anchor="middle">Low−risk</text>
<line x1="1915.5" y1="2014.5" x2="1915.5" y2="2020.3" stroke="#000" stroke-width="1.8"/>
<text transform="translate(1915.5 2040.4) scale(1 1.04)" font-size="21.9" text-anchor="middle">High−risk</text>
<text transform="translate(1643.8 1796) rotate(-90)" font-size="21.7" text-anchor="middle">UBQLN4 expression</text>
</g>
</svg>
</body>
</html>
